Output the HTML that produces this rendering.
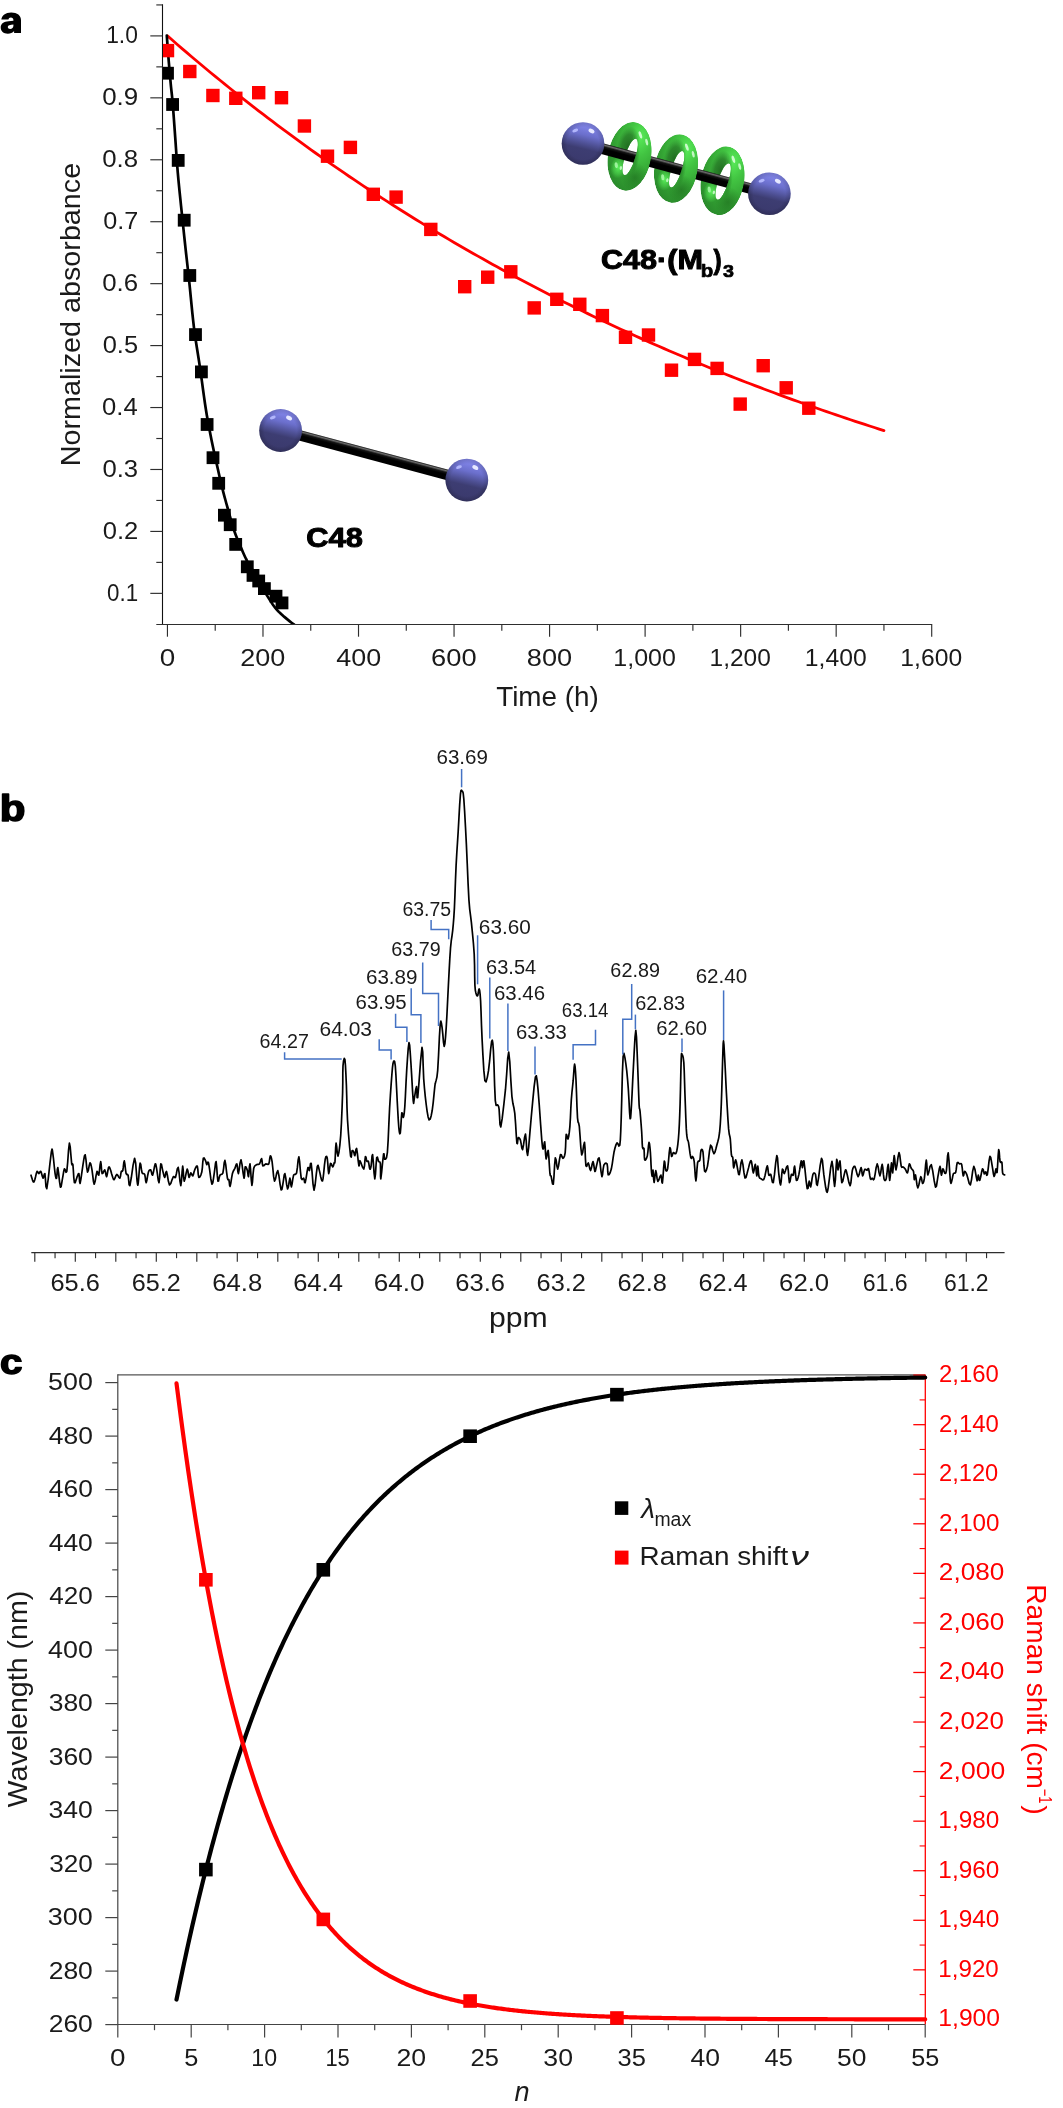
<!DOCTYPE html>
<html><head><meta charset="utf-8"><style>
html,body{margin:0;padding:0;background:#fff;}
svg{display:block;font-family:"Liberation Sans",sans-serif;will-change:transform;}
</style></head><body>
<svg width="1063" height="2108" viewBox="0 0 1063 2108">
<rect width="1063" height="2108" fill="#fff"/>
<path fill="#000" fill-rule="evenodd" d="M1.3,19.6 C1.9,15.3 5.5,12.4 11.2,12.4 C17.3,12.4 21.0,15.2 21.0,20.3 L21.0,33.0 L14.1,33.0 L14.1,31.1 C12.6,32.9 10.4,33.8 7.8,33.8 C3.5,33.8 0.7,31.3 0.7,27.6 C0.7,23.5 4.1,21.7 8.6,21.3 L13.4,20.8 L13.4,20.0 C13.4,18.5 12.4,17.6 10.9,17.6 C9.4,17.6 8.6,18.4 8.5,19.6 Z M13.4,24.5 C12.2,24.8 10.5,24.9 9.3,25.3 C8.3,25.6 7.8,26.3 7.8,27.1 C7.8,28.3 8.8,29.1 10.1,29.1 C12.2,29.1 13.4,27.7 13.4,25.8 Z"/>
<line x1="162.50" y1="4.30" x2="162.50" y2="625.00" stroke="#111" stroke-width="1.1" />
<line x1="156.30" y1="624.50" x2="932.20" y2="624.50" stroke="#2e2e2e" stroke-width="1.1" />
<line x1="150.30" y1="593.36" x2="162.50" y2="593.36" stroke="#2e2e2e" stroke-width="1.15" />
<text x="107.03" y="600.76" font-size="23" fill="#1a1a1a" textLength="31.06" lengthAdjust="spacingAndGlyphs" >0.1</text>
<line x1="150.30" y1="531.42" x2="162.50" y2="531.42" stroke="#2e2e2e" stroke-width="1.15" />
<text x="102.70" y="538.82" font-size="23" fill="#1a1a1a" textLength="35.59" lengthAdjust="spacingAndGlyphs" >0.2</text>
<line x1="150.30" y1="469.48" x2="162.50" y2="469.48" stroke="#2e2e2e" stroke-width="1.15" />
<text x="102.40" y="476.88" font-size="23" fill="#1a1a1a" textLength="35.73" lengthAdjust="spacingAndGlyphs" >0.3</text>
<line x1="150.30" y1="407.54" x2="162.50" y2="407.54" stroke="#2e2e2e" stroke-width="1.15" />
<text x="102.10" y="414.94" font-size="23" fill="#1a1a1a" textLength="35.65" lengthAdjust="spacingAndGlyphs" >0.4</text>
<line x1="150.30" y1="345.60" x2="162.50" y2="345.60" stroke="#2e2e2e" stroke-width="1.15" />
<text x="102.71" y="353.00" font-size="23" fill="#1a1a1a" textLength="35.36" lengthAdjust="spacingAndGlyphs" >0.5</text>
<line x1="150.30" y1="283.66" x2="162.50" y2="283.66" stroke="#2e2e2e" stroke-width="1.15" />
<text x="102.19" y="291.06" font-size="23" fill="#1a1a1a" textLength="35.95" lengthAdjust="spacingAndGlyphs" >0.6</text>
<line x1="150.30" y1="221.72" x2="162.50" y2="221.72" stroke="#2e2e2e" stroke-width="1.15" />
<text x="103.22" y="229.12" font-size="23" fill="#1a1a1a" textLength="35.05" lengthAdjust="spacingAndGlyphs" >0.7</text>
<line x1="150.30" y1="159.78" x2="162.50" y2="159.78" stroke="#2e2e2e" stroke-width="1.15" />
<text x="102.19" y="167.18" font-size="23" fill="#1a1a1a" textLength="35.93" lengthAdjust="spacingAndGlyphs" >0.8</text>
<line x1="150.30" y1="97.84" x2="162.50" y2="97.84" stroke="#2e2e2e" stroke-width="1.15" />
<text x="102.19" y="105.24" font-size="23" fill="#1a1a1a" textLength="36.04" lengthAdjust="spacingAndGlyphs" >0.9</text>
<line x1="150.30" y1="35.90" x2="162.50" y2="35.90" stroke="#2e2e2e" stroke-width="1.15" />
<text x="106.16" y="43.30" font-size="23" fill="#1a1a1a" textLength="31.73" lengthAdjust="spacingAndGlyphs" >1.0</text>
<line x1="156.30" y1="562.39" x2="162.50" y2="562.39" stroke="#2e2e2e" stroke-width="1.15" />
<line x1="156.30" y1="500.45" x2="162.50" y2="500.45" stroke="#2e2e2e" stroke-width="1.15" />
<line x1="156.30" y1="438.51" x2="162.50" y2="438.51" stroke="#2e2e2e" stroke-width="1.15" />
<line x1="156.30" y1="376.57" x2="162.50" y2="376.57" stroke="#2e2e2e" stroke-width="1.15" />
<line x1="156.30" y1="314.63" x2="162.50" y2="314.63" stroke="#2e2e2e" stroke-width="1.15" />
<line x1="156.30" y1="252.69" x2="162.50" y2="252.69" stroke="#2e2e2e" stroke-width="1.15" />
<line x1="156.30" y1="190.75" x2="162.50" y2="190.75" stroke="#2e2e2e" stroke-width="1.15" />
<line x1="156.30" y1="128.81" x2="162.50" y2="128.81" stroke="#2e2e2e" stroke-width="1.15" />
<line x1="156.30" y1="66.87" x2="162.50" y2="66.87" stroke="#2e2e2e" stroke-width="1.15" />
<line x1="156.30" y1="4.93" x2="162.50" y2="4.93" stroke="#2e2e2e" stroke-width="1.15" />
<line x1="167.45" y1="624.50" x2="167.45" y2="636.70" stroke="#2e2e2e" stroke-width="1.15" />
<text x="159.71" y="665.50" font-size="23" fill="#1a1a1a" textLength="15.47" lengthAdjust="spacingAndGlyphs" >0</text>
<line x1="262.98" y1="624.50" x2="262.98" y2="636.70" stroke="#2e2e2e" stroke-width="1.15" />
<text x="240.33" y="665.50" font-size="23" fill="#1a1a1a" textLength="45.01" lengthAdjust="spacingAndGlyphs" >200</text>
<line x1="358.51" y1="624.50" x2="358.51" y2="636.70" stroke="#2e2e2e" stroke-width="1.15" />
<text x="336.30" y="665.50" font-size="23" fill="#1a1a1a" textLength="44.87" lengthAdjust="spacingAndGlyphs" >400</text>
<line x1="454.05" y1="624.50" x2="454.05" y2="636.70" stroke="#2e2e2e" stroke-width="1.15" />
<text x="431.11" y="665.50" font-size="23" fill="#1a1a1a" textLength="45.55" lengthAdjust="spacingAndGlyphs" >600</text>
<line x1="549.58" y1="624.50" x2="549.58" y2="636.70" stroke="#2e2e2e" stroke-width="1.15" />
<text x="526.85" y="665.50" font-size="23" fill="#1a1a1a" textLength="45.34" lengthAdjust="spacingAndGlyphs" >800</text>
<line x1="645.11" y1="624.50" x2="645.11" y2="636.70" stroke="#2e2e2e" stroke-width="1.15" />
<text x="613.36" y="665.50" font-size="23" fill="#1a1a1a" textLength="62.58" lengthAdjust="spacingAndGlyphs" >1,000</text>
<line x1="740.64" y1="624.50" x2="740.64" y2="636.70" stroke="#2e2e2e" stroke-width="1.15" />
<text x="709.58" y="665.50" font-size="23" fill="#1a1a1a" textLength="61.22" lengthAdjust="spacingAndGlyphs" >1,200</text>
<line x1="836.17" y1="624.50" x2="836.17" y2="636.70" stroke="#2e2e2e" stroke-width="1.15" />
<text x="804.79" y="665.50" font-size="23" fill="#1a1a1a" textLength="61.85" lengthAdjust="spacingAndGlyphs" >1,400</text>
<line x1="931.71" y1="624.50" x2="931.71" y2="636.70" stroke="#2e2e2e" stroke-width="1.15" />
<text x="900.38" y="665.50" font-size="23" fill="#1a1a1a" textLength="61.74" lengthAdjust="spacingAndGlyphs" >1,600</text>
<line x1="215.22" y1="624.50" x2="215.22" y2="630.70" stroke="#2e2e2e" stroke-width="1.15" />
<line x1="310.75" y1="624.50" x2="310.75" y2="630.70" stroke="#2e2e2e" stroke-width="1.15" />
<line x1="406.28" y1="624.50" x2="406.28" y2="630.70" stroke="#2e2e2e" stroke-width="1.15" />
<line x1="501.81" y1="624.50" x2="501.81" y2="630.70" stroke="#2e2e2e" stroke-width="1.15" />
<line x1="597.34" y1="624.50" x2="597.34" y2="630.70" stroke="#2e2e2e" stroke-width="1.15" />
<line x1="692.88" y1="624.50" x2="692.88" y2="630.70" stroke="#2e2e2e" stroke-width="1.15" />
<line x1="788.41" y1="624.50" x2="788.41" y2="630.70" stroke="#2e2e2e" stroke-width="1.15" />
<line x1="883.94" y1="624.50" x2="883.94" y2="630.70" stroke="#2e2e2e" stroke-width="1.15" />
<text x="496.18" y="706.20" font-size="28" fill="#1a1a1a" textLength="102.73" lengthAdjust="spacingAndGlyphs" >Time (h)</text>
<g transform="translate(80.0,0) rotate(-90)">
<text x="-466.26" y="0.00" font-size="28" fill="#1a1a1a" textLength="303.43" lengthAdjust="spacingAndGlyphs" >Normalized absorbance</text>
</g>
<clipPath id="ca"><rect x="163" y="0" width="800" height="624"/></clipPath>
<path d="M167.45,35.90 L172.23,40.07 L177.00,44.22 L181.78,48.33 L186.56,52.42 L191.33,56.49 L196.11,60.52 L200.89,64.53 L205.66,68.51 L210.44,72.46 L215.22,76.39 L219.99,80.29 L224.77,84.16 L229.55,88.01 L234.32,91.83 L239.10,95.63 L243.88,99.40 L248.65,103.14 L253.43,106.86 L258.21,110.56 L262.98,114.23 L267.76,117.87 L272.54,121.49 L277.31,125.09 L282.09,128.66 L286.87,132.21 L291.64,135.74 L296.42,139.24 L301.19,142.71 L305.97,146.17 L310.75,149.60 L315.52,153.00 L320.30,156.39 L325.08,159.75 L329.85,163.09 L334.63,166.40 L339.41,169.70 L344.18,172.97 L348.96,176.22 L353.74,179.45 L358.51,182.65 L363.29,185.84 L368.07,189.00 L372.84,192.14 L377.62,195.26 L382.40,198.36 L387.17,201.44 L391.95,204.50 L396.73,207.53 L401.50,210.55 L406.28,213.55 L411.06,216.52 L415.83,219.48 L420.61,222.42 L425.39,225.33 L430.16,228.23 L434.94,231.11 L439.72,233.96 L444.49,236.80 L449.27,239.62 L454.05,242.42 L458.82,245.20 L463.60,247.97 L468.38,250.71 L473.15,253.44 L477.93,256.14 L482.71,258.83 L487.48,261.50 L492.26,264.16 L497.04,266.79 L501.81,269.41 L506.59,272.01 L511.37,274.59 L516.14,277.16 L520.92,279.71 L525.69,282.24 L530.47,284.75 L535.25,287.25 L540.02,289.73 L544.80,292.19 L549.58,294.63 L554.35,297.06 L559.13,299.48 L563.91,301.88 L568.68,304.26 L573.46,306.62 L578.24,308.97 L583.01,311.30 L587.79,313.62 L592.57,315.92 L597.34,318.21 L602.12,320.48 L606.90,322.74 L611.67,324.98 L616.45,327.20 L621.23,329.41 L626.00,331.61 L630.78,333.79 L635.56,335.96 L640.33,338.11 L645.11,340.24 L649.89,342.37 L654.66,344.47 L659.44,346.57 L664.22,348.65 L668.99,350.71 L673.77,352.77 L678.55,354.80 L683.32,356.83 L688.10,358.84 L692.88,360.84 L697.65,362.82 L702.43,364.79 L707.21,366.75 L711.98,368.69 L716.76,370.62 L721.54,372.54 L726.31,374.45 L731.09,376.34 L735.87,378.22 L740.64,380.09 L745.42,381.94 L750.20,383.78 L754.97,385.61 L759.75,387.43 L764.52,389.23 L769.30,391.02 L774.08,392.81 L778.85,394.57 L783.63,396.33 L788.41,398.07 L793.18,399.81 L797.96,401.53 L802.74,403.24 L807.51,404.94 L812.29,406.62 L817.07,408.30 L821.84,409.96 L826.62,411.62 L831.40,413.26 L836.17,414.89 L840.95,416.51 L845.73,418.12 L850.50,419.72 L855.28,421.30 L860.06,422.88 L864.83,424.44 L869.61,426.00 L874.39,427.54 L879.16,429.08 L883.94,430.60" fill="none" stroke="#f00" stroke-width="2.8" stroke-linejoin="round" stroke-linecap="round" />
<g clip-path="url(#ca)">
<path d="M166.80,35.60 L166.98,38.03 L167.22,41.36 L167.51,45.31 L167.83,49.62 L168.17,54.01 L168.50,58.20 L168.84,62.34 L169.20,66.67 L169.58,71.08 L169.96,75.44 L170.34,79.66 L170.70,83.60 L171.04,87.06 L171.36,90.10 L171.68,92.98 L172.00,95.98 L172.34,99.36 L172.70,103.40 L173.09,108.19 L173.49,113.53 L173.91,119.25 L174.34,125.20 L174.77,131.20 L175.20,137.10 L175.61,142.90 L176.01,148.75 L176.41,154.65 L176.83,160.63 L177.29,166.71 L177.80,172.90 L178.38,179.29 L179.01,185.87 L179.68,192.54 L180.36,199.22 L181.04,205.81 L181.70,212.20 L182.34,218.40 L182.97,224.48 L183.61,230.47 L184.24,236.39 L184.87,242.25 L185.50,248.10 L186.12,253.77 L186.73,259.21 L187.34,264.60 L187.97,270.13 L188.61,275.97 L189.30,282.30 L190.02,289.29 L190.75,296.84 L191.51,304.69 L192.30,312.63 L193.13,320.41 L194.00,327.80 L194.93,334.75 L195.91,341.44 L196.93,347.98 L197.96,354.47 L198.99,361.00 L200.00,367.70 L200.99,374.69 L201.99,381.93 L202.98,389.22 L203.97,396.38 L204.94,403.20 L205.90,409.50 L206.83,415.17 L207.73,420.35 L208.61,425.19 L209.51,429.87 L210.43,434.55 L211.40,439.40 L212.45,444.50 L213.56,449.73 L214.70,454.96 L215.83,460.06 L216.91,464.88 L217.90,469.30 L218.78,473.21 L219.57,476.70 L220.31,479.93 L221.03,483.02 L221.79,486.13 L222.60,489.40 L223.48,492.83 L224.40,496.29 L225.34,499.77 L226.29,503.24 L227.25,506.70 L228.20,510.10 L229.15,513.52 L230.10,516.98 L231.05,520.41 L232.00,523.76 L232.95,526.94 L233.90,529.90 L234.83,532.57 L235.74,534.99 L236.64,537.25 L237.56,539.44 L238.51,541.66 L239.50,544.00 L240.54,546.49 L241.63,549.07 L242.74,551.67 L243.86,554.24 L244.99,556.70 L246.10,559.00 L247.19,561.08 L248.27,562.97 L249.34,564.76 L250.43,566.53 L251.55,568.35 L252.70,570.30 L253.90,572.39 L255.13,574.56 L256.39,576.79 L257.67,579.04 L258.94,581.28 L260.20,583.50 L261.45,585.71 L262.70,587.94 L263.94,590.17 L265.19,592.37 L266.44,594.52 L267.70,596.60 L268.96,598.63 L270.23,600.64 L271.50,602.59 L272.77,604.47 L274.04,606.25 L275.30,607.90 L276.52,609.37 L277.70,610.68 L278.88,611.88 L280.10,613.04 L281.39,614.23 L282.80,615.50 L284.39,616.90 L286.15,618.38 L287.99,619.89 L289.81,621.35 L291.55,622.71 L293.10,623.90 L294.53,624.94 L295.91,625.89 L297.19,626.72 L298.34,627.45 L299.29,628.04 L300.00,628.50" fill="none" stroke="#000" stroke-width="2.7" stroke-linejoin="round" stroke-linecap="round" />
</g>
<g clip-path="url(#ca)">
<rect x="160.80" y="43.90" width="13.40" height="13.40" fill="#f00"/>
<rect x="183.10" y="64.80" width="13.40" height="13.40" fill="#f00"/>
<rect x="206.20" y="88.80" width="13.40" height="13.40" fill="#f00"/>
<rect x="229.10" y="91.60" width="13.40" height="13.40" fill="#f00"/>
<rect x="252.00" y="86.00" width="13.40" height="13.40" fill="#f00"/>
<rect x="274.80" y="91.00" width="13.40" height="13.40" fill="#f00"/>
<rect x="297.70" y="119.30" width="13.40" height="13.40" fill="#f00"/>
<rect x="320.80" y="149.50" width="13.40" height="13.40" fill="#f00"/>
<rect x="343.70" y="140.70" width="13.40" height="13.40" fill="#f00"/>
<rect x="366.60" y="187.60" width="13.40" height="13.40" fill="#f00"/>
<rect x="389.40" y="190.40" width="13.40" height="13.40" fill="#f00"/>
<rect x="424.10" y="222.70" width="13.40" height="13.40" fill="#f00"/>
<rect x="458.00" y="280.00" width="13.40" height="13.40" fill="#f00"/>
<rect x="481.00" y="270.50" width="13.40" height="13.40" fill="#f00"/>
<rect x="504.10" y="265.10" width="13.40" height="13.40" fill="#f00"/>
<rect x="527.50" y="301.20" width="13.40" height="13.40" fill="#f00"/>
<rect x="550.10" y="292.60" width="13.40" height="13.40" fill="#f00"/>
<rect x="573.10" y="297.60" width="13.40" height="13.40" fill="#f00"/>
<rect x="595.70" y="308.90" width="13.40" height="13.40" fill="#f00"/>
<rect x="618.80" y="330.60" width="13.40" height="13.40" fill="#f00"/>
<rect x="641.80" y="328.30" width="13.40" height="13.40" fill="#f00"/>
<rect x="664.80" y="363.50" width="13.40" height="13.40" fill="#f00"/>
<rect x="687.80" y="352.70" width="13.40" height="13.40" fill="#f00"/>
<rect x="710.40" y="361.70" width="13.40" height="13.40" fill="#f00"/>
<rect x="733.50" y="397.40" width="13.40" height="13.40" fill="#f00"/>
<rect x="756.50" y="359.00" width="13.40" height="13.40" fill="#f00"/>
<rect x="779.50" y="381.10" width="13.40" height="13.40" fill="#f00"/>
<rect x="802.10" y="401.50" width="13.40" height="13.40" fill="#f00"/>
<rect x="161.10" y="66.80" width="12.80" height="12.80" fill="#000"/>
<rect x="166.20" y="98.10" width="12.80" height="12.80" fill="#000"/>
<rect x="171.80" y="154.00" width="12.80" height="12.80" fill="#000"/>
<rect x="177.80" y="213.80" width="12.80" height="12.80" fill="#000"/>
<rect x="183.40" y="269.10" width="12.80" height="12.80" fill="#000"/>
<rect x="189.10" y="328.20" width="12.80" height="12.80" fill="#000"/>
<rect x="195.00" y="365.50" width="12.80" height="12.80" fill="#000"/>
<rect x="200.70" y="418.10" width="12.80" height="12.80" fill="#000"/>
<rect x="206.60" y="451.30" width="12.80" height="12.80" fill="#000"/>
<rect x="212.30" y="476.90" width="12.80" height="12.80" fill="#000"/>
<rect x="218.00" y="508.80" width="12.80" height="12.80" fill="#000"/>
<rect x="223.80" y="518.30" width="12.80" height="12.80" fill="#000"/>
<rect x="229.30" y="538.00" width="12.80" height="12.80" fill="#000"/>
<rect x="240.90" y="560.40" width="12.80" height="12.80" fill="#000"/>
<rect x="246.60" y="569.00" width="12.80" height="12.80" fill="#000"/>
<rect x="252.30" y="574.60" width="12.80" height="12.80" fill="#000"/>
<rect x="258.00" y="582.20" width="12.80" height="12.80" fill="#000"/>
<rect x="269.60" y="589.80" width="12.80" height="12.80" fill="#000"/>
<rect x="275.60" y="596.50" width="12.80" height="12.80" fill="#000"/>
</g>
<defs>
<linearGradient id="sph" x1="0.62" y1="0" x2="0.38" y2="1">
<stop offset="0" stop-color="#8a8ef5"/><stop offset="0.3" stop-color="#6b6fcc"/><stop offset="0.5" stop-color="#4d4f92"/><stop offset="0.62" stop-color="#3d3d72"/><stop offset="1" stop-color="#3a396c"/></linearGradient>
<radialGradient id="sphE" cx="0.5" cy="0.5" r="0.5"><stop offset="0.75" stop-color="#000" stop-opacity="0"/><stop offset="1" stop-color="#000" stop-opacity="0.18"/></radialGradient>
<linearGradient id="rodg" x1="0" y1="0" x2="0" y2="1"><stop offset="0" stop-color="#111"/><stop offset="0.14" stop-color="#6e6e6e"/><stop offset="0.3" stop-color="#141414"/><stop offset="0.5" stop-color="#000"/><stop offset="1" stop-color="#000"/></linearGradient>
<linearGradient id="grn" x1="0" y1="0" x2="1" y2="0.3"><stop offset="0" stop-color="#2e9a2e"/><stop offset="0.4" stop-color="#45c045"/><stop offset="0.7" stop-color="#36a836"/><stop offset="1" stop-color="#207a20"/></linearGradient>
</defs>
<g transform="translate(280.6,430.3) rotate(14.974)"><rect x="0" y="-5.25" width="192.74" height="10.5" fill="url(#rodg)"/></g>
<circle cx="280.6" cy="430.5" r="21.4" fill="url(#sph)"/>
<circle cx="280.6" cy="430.5" r="21.4" fill="url(#sphE)"/>
<ellipse cx="272.8" cy="417.5" rx="3" ry="1.6" fill="#b8bcff" transform="rotate(-20 272.8 417.5)" opacity="0.9"/>
<ellipse cx="289.1" cy="418.0" rx="3.2" ry="2" fill="#e6e8ff" transform="rotate(30 289.1 418.0)"/>
<circle cx="466.8" cy="480.1" r="21.4" fill="url(#sph)"/>
<circle cx="466.8" cy="480.1" r="21.4" fill="url(#sphE)"/>
<ellipse cx="459.0" cy="467.1" rx="3" ry="1.6" fill="#b8bcff" transform="rotate(-20 459.0 467.1)" opacity="0.9"/>
<ellipse cx="475.3" cy="467.6" rx="3.2" ry="2" fill="#e6e8ff" transform="rotate(30 475.3 467.6)"/>
<text x="306.34" y="547.00" font-size="27" fill="#000" font-weight="bold" textLength="56.51" lengthAdjust="spacingAndGlyphs"  stroke="#000" stroke-width="1.0" stroke-linejoin="round">C48</text>
<defs><radialGradient id="ringg" cx="0.68" cy="0.2" r="0.9"><stop offset="0" stop-color="#58ea58"/><stop offset="0.3" stop-color="#42c442"/><stop offset="0.65" stop-color="#33a233"/><stop offset="1" stop-color="#28862a"/></radialGradient><radialGradient id="rgdark"><stop offset="0" stop-color="#1f681f" stop-opacity="0.95"/><stop offset="0.6" stop-color="#247224" stop-opacity="0.7"/><stop offset="1" stop-color="#2a7a2a" stop-opacity="0"/></radialGradient><radialGradient id="rglight"><stop offset="0" stop-color="#5cf25c" stop-opacity="0.95"/><stop offset="0.6" stop-color="#52e052" stop-opacity="0.5"/><stop offset="1" stop-color="#4cd84c" stop-opacity="0"/></radialGradient><radialGradient id="rgshade"><stop offset="0" stop-color="#1c661c" stop-opacity="0.55"/><stop offset="1" stop-color="#1c661c" stop-opacity="0"/></radialGradient>
<clipPath id="rc0"><rect x="630.3" y="116.30000000000001" width="30" height="80"/></clipPath>
<clipPath id="rs0"><path clip-rule="evenodd" d="M607.9,156.3 A21.6,34.6 0 1 0 651.1,156.3 A21.6,34.6 0 1 0 607.9,156.3 Z  M625.3,156.8 A5,16.8 8 1 0 635.3,156.8 A5,16.8 8 1 0 625.3,156.8 Z"/></clipPath>
<clipPath id="rc1"><rect x="676.8" y="128.5" width="30" height="80"/></clipPath>
<clipPath id="rs1"><path clip-rule="evenodd" d="M654.4,168.5 A21.6,34.6 0 1 0 697.6,168.5 A21.6,34.6 0 1 0 654.4,168.5 Z  M671.8,169.0 A5,16.8 8 1 0 681.8,169.0 A5,16.8 8 1 0 671.8,169.0 Z"/></clipPath>
<clipPath id="rc2"><rect x="723.3" y="140.7" width="30" height="80"/></clipPath>
<clipPath id="rs2"><path clip-rule="evenodd" d="M700.9,180.7 A21.6,34.6 0 1 0 744.1,180.7 A21.6,34.6 0 1 0 700.9,180.7 Z  M718.3,181.2 A5,16.8 8 1 0 728.3,181.2 A5,16.8 8 1 0 718.3,181.2 Z"/></clipPath>
</defs>
<g transform="rotate(10 629.5 156.3)"><g clip-path="url(#rs0)">
<path d="M607.9,156.3 A21.6,34.6 0 1 0 651.1,156.3 A21.6,34.6 0 1 0 607.9,156.3 Z " fill="url(#ringg)"/>
<ellipse cx="626.5" cy="147.3" rx="11" ry="21" fill="url(#rgdark)"/>
<ellipse cx="620.5" cy="169.3" rx="8" ry="11" fill="url(#rglight)"/>
<ellipse cx="638.5" cy="176.3" rx="13" ry="15" fill="url(#rgshade)"/>
<ellipse cx="635.5" cy="158.3" rx="4" ry="14" fill="url(#rgshade)"/>
<ellipse cx="636.5" cy="133.3" rx="1.4" ry="3.8" fill="#e0ffe0" opacity="0.85" transform="rotate(-28 636.5 133.3)"/>
<ellipse cx="644.0" cy="139.3" rx="1.3" ry="3.4" fill="#e0ffe0" opacity="0.8" transform="rotate(-22 644.0 139.3)"/>
<ellipse cx="618.0" cy="167.3" rx="1.6" ry="3.0" fill="#b8ffb8" opacity="0.75" transform="rotate(-15 618.0 167.3)"/>
<ellipse cx="623.0" cy="169.3" rx="1.2" ry="2.0" fill="#d8ffd8" opacity="0.8"/>
</g></g>
<g transform="rotate(10 676 168.5)"><g clip-path="url(#rs1)">
<path d="M654.4,168.5 A21.6,34.6 0 1 0 697.6,168.5 A21.6,34.6 0 1 0 654.4,168.5 Z " fill="url(#ringg)"/>
<ellipse cx="673" cy="159.5" rx="11" ry="21" fill="url(#rgdark)"/>
<ellipse cx="667" cy="181.5" rx="8" ry="11" fill="url(#rglight)"/>
<ellipse cx="685" cy="188.5" rx="13" ry="15" fill="url(#rgshade)"/>
<ellipse cx="682" cy="170.5" rx="4" ry="14" fill="url(#rgshade)"/>
<ellipse cx="683" cy="145.5" rx="1.4" ry="3.8" fill="#e0ffe0" opacity="0.85" transform="rotate(-28 683 145.5)"/>
<ellipse cx="690.5" cy="151.5" rx="1.3" ry="3.4" fill="#e0ffe0" opacity="0.8" transform="rotate(-22 690.5 151.5)"/>
<ellipse cx="664.5" cy="179.5" rx="1.6" ry="3.0" fill="#b8ffb8" opacity="0.75" transform="rotate(-15 664.5 179.5)"/>
<ellipse cx="669.5" cy="181.5" rx="1.2" ry="2.0" fill="#d8ffd8" opacity="0.8"/>
</g></g>
<g transform="rotate(10 722.5 180.7)"><g clip-path="url(#rs2)">
<path d="M700.9,180.7 A21.6,34.6 0 1 0 744.1,180.7 A21.6,34.6 0 1 0 700.9,180.7 Z " fill="url(#ringg)"/>
<ellipse cx="719.5" cy="171.7" rx="11" ry="21" fill="url(#rgdark)"/>
<ellipse cx="713.5" cy="193.7" rx="8" ry="11" fill="url(#rglight)"/>
<ellipse cx="731.5" cy="200.7" rx="13" ry="15" fill="url(#rgshade)"/>
<ellipse cx="728.5" cy="182.7" rx="4" ry="14" fill="url(#rgshade)"/>
<ellipse cx="729.5" cy="157.7" rx="1.4" ry="3.8" fill="#e0ffe0" opacity="0.85" transform="rotate(-28 729.5 157.7)"/>
<ellipse cx="737.0" cy="163.7" rx="1.3" ry="3.4" fill="#e0ffe0" opacity="0.8" transform="rotate(-22 737.0 163.7)"/>
<ellipse cx="711.0" cy="191.7" rx="1.6" ry="3.0" fill="#b8ffb8" opacity="0.75" transform="rotate(-15 711.0 191.7)"/>
<ellipse cx="716.0" cy="193.7" rx="1.2" ry="2.0" fill="#d8ffd8" opacity="0.8"/>
</g></g>
<g transform="translate(583,143.5) rotate(15.073)"><rect x="0" y="-5.4" width="193.04" height="10.8" fill="url(#rodg)"/></g>
<g transform="rotate(10 629.5 156.3)" clip-path="url(#rc0)"><g clip-path="url(#rs0)">
<path d="M607.9,156.3 A21.6,34.6 0 1 0 651.1,156.3 A21.6,34.6 0 1 0 607.9,156.3 Z " fill="url(#ringg)"/>
<ellipse cx="626.5" cy="147.3" rx="11" ry="21" fill="url(#rgdark)"/>
<ellipse cx="620.5" cy="169.3" rx="8" ry="11" fill="url(#rglight)"/>
<ellipse cx="638.5" cy="176.3" rx="13" ry="15" fill="url(#rgshade)"/>
<ellipse cx="635.5" cy="158.3" rx="4" ry="14" fill="url(#rgshade)"/>
<ellipse cx="636.5" cy="133.3" rx="1.4" ry="3.8" fill="#e0ffe0" opacity="0.85" transform="rotate(-28 636.5 133.3)"/>
<ellipse cx="644.0" cy="139.3" rx="1.3" ry="3.4" fill="#e0ffe0" opacity="0.8" transform="rotate(-22 644.0 139.3)"/>
<ellipse cx="618.0" cy="167.3" rx="1.6" ry="3.0" fill="#b8ffb8" opacity="0.75" transform="rotate(-15 618.0 167.3)"/>
<ellipse cx="623.0" cy="169.3" rx="1.2" ry="2.0" fill="#d8ffd8" opacity="0.8"/>
</g></g>
<g transform="rotate(10 676 168.5)" clip-path="url(#rc1)"><g clip-path="url(#rs1)">
<path d="M654.4,168.5 A21.6,34.6 0 1 0 697.6,168.5 A21.6,34.6 0 1 0 654.4,168.5 Z " fill="url(#ringg)"/>
<ellipse cx="673" cy="159.5" rx="11" ry="21" fill="url(#rgdark)"/>
<ellipse cx="667" cy="181.5" rx="8" ry="11" fill="url(#rglight)"/>
<ellipse cx="685" cy="188.5" rx="13" ry="15" fill="url(#rgshade)"/>
<ellipse cx="682" cy="170.5" rx="4" ry="14" fill="url(#rgshade)"/>
<ellipse cx="683" cy="145.5" rx="1.4" ry="3.8" fill="#e0ffe0" opacity="0.85" transform="rotate(-28 683 145.5)"/>
<ellipse cx="690.5" cy="151.5" rx="1.3" ry="3.4" fill="#e0ffe0" opacity="0.8" transform="rotate(-22 690.5 151.5)"/>
<ellipse cx="664.5" cy="179.5" rx="1.6" ry="3.0" fill="#b8ffb8" opacity="0.75" transform="rotate(-15 664.5 179.5)"/>
<ellipse cx="669.5" cy="181.5" rx="1.2" ry="2.0" fill="#d8ffd8" opacity="0.8"/>
</g></g>
<g transform="rotate(10 722.5 180.7)" clip-path="url(#rc2)"><g clip-path="url(#rs2)">
<path d="M700.9,180.7 A21.6,34.6 0 1 0 744.1,180.7 A21.6,34.6 0 1 0 700.9,180.7 Z " fill="url(#ringg)"/>
<ellipse cx="719.5" cy="171.7" rx="11" ry="21" fill="url(#rgdark)"/>
<ellipse cx="713.5" cy="193.7" rx="8" ry="11" fill="url(#rglight)"/>
<ellipse cx="731.5" cy="200.7" rx="13" ry="15" fill="url(#rgshade)"/>
<ellipse cx="728.5" cy="182.7" rx="4" ry="14" fill="url(#rgshade)"/>
<ellipse cx="729.5" cy="157.7" rx="1.4" ry="3.8" fill="#e0ffe0" opacity="0.85" transform="rotate(-28 729.5 157.7)"/>
<ellipse cx="737.0" cy="163.7" rx="1.3" ry="3.4" fill="#e0ffe0" opacity="0.8" transform="rotate(-22 737.0 163.7)"/>
<ellipse cx="711.0" cy="191.7" rx="1.6" ry="3.0" fill="#b8ffb8" opacity="0.75" transform="rotate(-15 711.0 191.7)"/>
<ellipse cx="716.0" cy="193.7" rx="1.2" ry="2.0" fill="#d8ffd8" opacity="0.8"/>
</g></g>
<circle cx="583" cy="143.5" r="21.3" fill="url(#sph)"/>
<circle cx="583" cy="143.5" r="21.3" fill="url(#sphE)"/>
<ellipse cx="575.2" cy="130.5" rx="3" ry="1.6" fill="#b8bcff" transform="rotate(-20 575.2 130.5)" opacity="0.9"/>
<ellipse cx="591.5" cy="131.0" rx="3.2" ry="2" fill="#e6e8ff" transform="rotate(30 591.5 131.0)"/>
<circle cx="769.4" cy="193.7" r="21.3" fill="url(#sph)"/>
<circle cx="769.4" cy="193.7" r="21.3" fill="url(#sphE)"/>
<ellipse cx="761.6" cy="180.7" rx="3" ry="1.6" fill="#b8bcff" transform="rotate(-20 761.6 180.7)" opacity="0.9"/>
<ellipse cx="777.9" cy="181.2" rx="3.2" ry="2" fill="#e6e8ff" transform="rotate(30 777.9 181.2)"/>
<text x="600.94" y="269.40" font-size="27" fill="#000" font-weight="bold" textLength="102.00" lengthAdjust="spacingAndGlyphs"  stroke="#000" stroke-width="1.0" stroke-linejoin="round">C48·(M</text>
<text x="700.70" y="276.60" font-size="19" fill="#000" font-weight="bold" textLength="12.49" lengthAdjust="spacingAndGlyphs"  stroke="#000" stroke-width="0.7" stroke-linejoin="round">b</text>
<text x="713.58" y="269.40" font-size="27" fill="#000" font-weight="bold" textLength="8.14" lengthAdjust="spacingAndGlyphs"  stroke="#000" stroke-width="1.0" stroke-linejoin="round">)</text>
<text x="723.10" y="276.70" font-size="17" fill="#000" font-weight="bold" textLength="10.96" lengthAdjust="spacingAndGlyphs"  stroke="#000" stroke-width="0.7" stroke-linejoin="round">3</text>
<text x="-0.27" y="821.30" font-size="37.3" fill="#000" font-weight="bold" textLength="25.70" lengthAdjust="spacingAndGlyphs"  stroke="#000" stroke-width="1.6" stroke-linejoin="round">b</text>
<line x1="31.30" y1="1252.60" x2="1004.60" y2="1252.60" stroke="#2e2e2e" stroke-width="1.15" />
<line x1="34.80" y1="1252.60" x2="34.80" y2="1261.80" stroke="#2e2e2e" stroke-width="1.15" />
<line x1="55.05" y1="1252.60" x2="55.05" y2="1258.20" stroke="#2e2e2e" stroke-width="1.15" />
<line x1="75.30" y1="1252.60" x2="75.30" y2="1261.80" stroke="#2e2e2e" stroke-width="1.15" />
<line x1="95.55" y1="1252.60" x2="95.55" y2="1258.20" stroke="#2e2e2e" stroke-width="1.15" />
<line x1="115.80" y1="1252.60" x2="115.80" y2="1261.80" stroke="#2e2e2e" stroke-width="1.15" />
<line x1="136.05" y1="1252.60" x2="136.05" y2="1258.20" stroke="#2e2e2e" stroke-width="1.15" />
<line x1="156.30" y1="1252.60" x2="156.30" y2="1261.80" stroke="#2e2e2e" stroke-width="1.15" />
<line x1="176.55" y1="1252.60" x2="176.55" y2="1258.20" stroke="#2e2e2e" stroke-width="1.15" />
<line x1="196.80" y1="1252.60" x2="196.80" y2="1261.80" stroke="#2e2e2e" stroke-width="1.15" />
<line x1="217.05" y1="1252.60" x2="217.05" y2="1258.20" stroke="#2e2e2e" stroke-width="1.15" />
<line x1="237.30" y1="1252.60" x2="237.30" y2="1261.80" stroke="#2e2e2e" stroke-width="1.15" />
<line x1="257.55" y1="1252.60" x2="257.55" y2="1258.20" stroke="#2e2e2e" stroke-width="1.15" />
<line x1="277.80" y1="1252.60" x2="277.80" y2="1261.80" stroke="#2e2e2e" stroke-width="1.15" />
<line x1="298.05" y1="1252.60" x2="298.05" y2="1258.20" stroke="#2e2e2e" stroke-width="1.15" />
<line x1="318.30" y1="1252.60" x2="318.30" y2="1261.80" stroke="#2e2e2e" stroke-width="1.15" />
<line x1="338.55" y1="1252.60" x2="338.55" y2="1258.20" stroke="#2e2e2e" stroke-width="1.15" />
<line x1="358.80" y1="1252.60" x2="358.80" y2="1261.80" stroke="#2e2e2e" stroke-width="1.15" />
<line x1="379.05" y1="1252.60" x2="379.05" y2="1258.20" stroke="#2e2e2e" stroke-width="1.15" />
<line x1="399.30" y1="1252.60" x2="399.30" y2="1261.80" stroke="#2e2e2e" stroke-width="1.15" />
<line x1="419.55" y1="1252.60" x2="419.55" y2="1258.20" stroke="#2e2e2e" stroke-width="1.15" />
<line x1="439.80" y1="1252.60" x2="439.80" y2="1261.80" stroke="#2e2e2e" stroke-width="1.15" />
<line x1="460.05" y1="1252.60" x2="460.05" y2="1258.20" stroke="#2e2e2e" stroke-width="1.15" />
<line x1="480.30" y1="1252.60" x2="480.30" y2="1261.80" stroke="#2e2e2e" stroke-width="1.15" />
<line x1="500.55" y1="1252.60" x2="500.55" y2="1258.20" stroke="#2e2e2e" stroke-width="1.15" />
<line x1="520.80" y1="1252.60" x2="520.80" y2="1261.80" stroke="#2e2e2e" stroke-width="1.15" />
<line x1="541.05" y1="1252.60" x2="541.05" y2="1258.20" stroke="#2e2e2e" stroke-width="1.15" />
<line x1="561.30" y1="1252.60" x2="561.30" y2="1261.80" stroke="#2e2e2e" stroke-width="1.15" />
<line x1="581.55" y1="1252.60" x2="581.55" y2="1258.20" stroke="#2e2e2e" stroke-width="1.15" />
<line x1="601.80" y1="1252.60" x2="601.80" y2="1261.80" stroke="#2e2e2e" stroke-width="1.15" />
<line x1="622.05" y1="1252.60" x2="622.05" y2="1258.20" stroke="#2e2e2e" stroke-width="1.15" />
<line x1="642.30" y1="1252.60" x2="642.30" y2="1261.80" stroke="#2e2e2e" stroke-width="1.15" />
<line x1="662.55" y1="1252.60" x2="662.55" y2="1258.20" stroke="#2e2e2e" stroke-width="1.15" />
<line x1="682.80" y1="1252.60" x2="682.80" y2="1261.80" stroke="#2e2e2e" stroke-width="1.15" />
<line x1="703.05" y1="1252.60" x2="703.05" y2="1258.20" stroke="#2e2e2e" stroke-width="1.15" />
<line x1="723.30" y1="1252.60" x2="723.30" y2="1261.80" stroke="#2e2e2e" stroke-width="1.15" />
<line x1="743.55" y1="1252.60" x2="743.55" y2="1258.20" stroke="#2e2e2e" stroke-width="1.15" />
<line x1="763.80" y1="1252.60" x2="763.80" y2="1261.80" stroke="#2e2e2e" stroke-width="1.15" />
<line x1="784.05" y1="1252.60" x2="784.05" y2="1258.20" stroke="#2e2e2e" stroke-width="1.15" />
<line x1="804.30" y1="1252.60" x2="804.30" y2="1261.80" stroke="#2e2e2e" stroke-width="1.15" />
<line x1="824.55" y1="1252.60" x2="824.55" y2="1258.20" stroke="#2e2e2e" stroke-width="1.15" />
<line x1="844.80" y1="1252.60" x2="844.80" y2="1261.80" stroke="#2e2e2e" stroke-width="1.15" />
<line x1="865.05" y1="1252.60" x2="865.05" y2="1258.20" stroke="#2e2e2e" stroke-width="1.15" />
<line x1="885.30" y1="1252.60" x2="885.30" y2="1261.80" stroke="#2e2e2e" stroke-width="1.15" />
<line x1="905.55" y1="1252.60" x2="905.55" y2="1258.20" stroke="#2e2e2e" stroke-width="1.15" />
<line x1="925.80" y1="1252.60" x2="925.80" y2="1261.80" stroke="#2e2e2e" stroke-width="1.15" />
<line x1="946.05" y1="1252.60" x2="946.05" y2="1258.20" stroke="#2e2e2e" stroke-width="1.15" />
<line x1="966.30" y1="1252.60" x2="966.30" y2="1261.80" stroke="#2e2e2e" stroke-width="1.15" />
<line x1="986.55" y1="1252.60" x2="986.55" y2="1258.20" stroke="#2e2e2e" stroke-width="1.15" />
<text x="50.51" y="1290.60" font-size="23" fill="#1a1a1a" textLength="49.40" lengthAdjust="spacingAndGlyphs" >65.6</text>
<text x="131.77" y="1290.60" font-size="23" fill="#1a1a1a" textLength="49.05" lengthAdjust="spacingAndGlyphs" >65.2</text>
<text x="212.19" y="1290.60" font-size="23" fill="#1a1a1a" textLength="50.02" lengthAdjust="spacingAndGlyphs" >64.8</text>
<text x="293.15" y="1290.60" font-size="23" fill="#1a1a1a" textLength="49.75" lengthAdjust="spacingAndGlyphs" >64.4</text>
<text x="373.78" y="1290.60" font-size="23" fill="#1a1a1a" textLength="50.74" lengthAdjust="spacingAndGlyphs" >64.0</text>
<text x="455.35" y="1290.60" font-size="23" fill="#1a1a1a" textLength="49.72" lengthAdjust="spacingAndGlyphs" >63.6</text>
<text x="536.61" y="1290.60" font-size="23" fill="#1a1a1a" textLength="49.36" lengthAdjust="spacingAndGlyphs" >63.2</text>
<text x="617.51" y="1290.60" font-size="23" fill="#1a1a1a" textLength="49.39" lengthAdjust="spacingAndGlyphs" >62.8</text>
<text x="698.47" y="1290.60" font-size="23" fill="#1a1a1a" textLength="49.12" lengthAdjust="spacingAndGlyphs" >62.4</text>
<text x="779.09" y="1290.60" font-size="23" fill="#1a1a1a" textLength="50.11" lengthAdjust="spacingAndGlyphs" >62.0</text>
<text x="862.73" y="1290.60" font-size="23" fill="#1a1a1a" textLength="44.99" lengthAdjust="spacingAndGlyphs" >61.6</text>
<text x="943.99" y="1290.60" font-size="23" fill="#1a1a1a" textLength="44.62" lengthAdjust="spacingAndGlyphs" >61.2</text>
<text x="488.95" y="1326.50" font-size="27.2" fill="#1a1a1a" textLength="58.74" lengthAdjust="spacingAndGlyphs" >ppm</text>
<path d="M31.00,1175.20 L31.63,1177.27 L32.51,1180.08 L33.30,1181.90 L33.83,1182.05 L34.28,1181.21 L34.80,1179.70 L35.50,1177.00 L36.27,1173.61 L37.00,1171.40 L37.62,1171.52 L38.20,1172.80 L38.80,1173.60 L39.44,1172.86 L40.10,1171.63 L40.80,1171.40 L41.56,1173.42 L42.36,1176.44 L43.10,1178.20 L43.73,1176.78 L44.31,1174.10 L44.90,1173.60 L45.43,1179.08 L45.97,1186.75 L46.80,1188.70 L48.22,1179.00 L49.93,1163.57 L51.30,1152.30 L51.99,1149.15 L52.35,1150.15 L52.80,1153.30 L53.54,1159.22 L54.36,1167.28 L55.10,1173.60 L55.67,1176.86 L56.15,1178.37 L56.60,1178.20 L56.97,1174.67 L57.31,1169.46 L57.80,1167.60 L58.59,1172.90 L59.53,1181.56 L60.40,1187.20 L61.08,1186.83 L61.68,1183.46 L62.30,1179.70 L62.97,1175.82 L63.67,1171.56 L64.40,1168.80 L65.17,1169.81 L65.97,1172.31 L66.80,1171.40 L67.66,1162.47 L68.55,1150.12 L69.40,1143.20 L70.23,1147.22 L71.03,1156.67 L71.70,1163.90 L72.17,1164.97 L72.52,1163.82 L72.90,1164.60 L73.34,1170.21 L73.81,1177.76 L74.40,1182.70 L75.18,1182.61 L76.07,1179.92 L76.90,1177.40 L77.63,1175.52 L78.31,1173.80 L78.90,1173.60 L79.30,1176.92 L79.60,1181.75 L80.10,1183.40 L80.97,1178.92 L82.02,1171.26 L83.00,1164.60 L83.78,1159.66 L84.49,1155.73 L85.20,1154.80 L85.95,1159.54 L86.71,1167.30 L87.50,1172.10 L88.34,1170.36 L89.20,1165.67 L90.00,1162.80 L90.70,1163.69 L91.34,1166.39 L92.00,1169.90 L92.70,1175.14 L93.41,1181.17 L94.20,1184.20 L95.13,1181.33 L96.12,1175.44 L97.00,1171.40 L97.67,1172.08 L98.23,1174.61 L98.80,1175.20 L99.44,1171.01 L100.10,1164.88 L100.70,1161.60 L101.16,1164.29 L101.56,1169.81 L102.10,1173.60 L102.94,1173.14 L103.92,1170.94 L104.80,1169.90 L105.46,1171.98 L106.03,1175.22 L106.60,1176.70 L107.24,1174.48 L107.89,1170.49 L108.50,1167.60 L109.00,1166.89 L109.46,1167.27 L110.00,1168.40 L110.73,1170.54 L111.54,1173.43 L112.30,1175.90 L112.90,1177.78 L113.45,1179.24 L114.10,1179.70 L114.92,1178.27 L115.84,1175.83 L116.80,1174.40 L117.83,1175.39 L118.90,1177.38 L119.80,1178.20 L120.41,1176.50 L120.86,1173.61 L121.30,1171.40 L121.80,1171.02 L122.30,1171.30 L122.80,1170.60 L123.29,1167.20 L123.78,1162.80 L124.30,1160.90 L124.87,1163.89 L125.47,1169.36 L126.10,1173.60 L126.76,1174.63 L127.44,1174.42 L128.10,1175.20 L128.61,1179.44 L129.09,1184.68 L129.90,1185.70 L131.33,1177.51 L133.09,1165.11 L134.60,1158.30 L135.65,1162.97 L136.45,1173.24 L137.10,1181.20 L137.54,1184.30 L137.83,1185.10 L138.20,1183.40 L138.77,1177.19 L139.43,1168.47 L140.10,1163.10 L140.74,1164.44 L141.39,1169.13 L142.10,1172.90 L142.96,1173.76 L143.89,1173.70 L144.70,1174.40 L145.26,1177.36 L145.69,1181.08 L146.20,1182.70 L146.88,1180.26 L147.63,1175.71 L148.40,1172.10 L149.17,1170.47 L149.96,1169.77 L150.70,1169.90 L151.34,1171.73 L151.93,1174.39 L152.60,1175.20 L153.46,1172.05 L154.39,1167.06 L155.20,1163.90 L155.75,1164.10 L156.18,1166.13 L156.70,1169.10 L157.43,1174.21 L158.24,1180.26 L159.00,1182.70 L159.63,1177.89 L160.21,1169.48 L160.80,1163.90 L161.42,1164.24 L162.06,1167.41 L162.70,1170.60 L163.37,1173.33 L164.04,1176.08 L164.70,1177.40 L165.27,1175.63 L165.82,1172.43 L166.50,1171.40 L167.38,1175.26 L168.40,1181.29 L169.50,1184.90 L170.77,1183.44 L172.12,1179.58 L173.30,1176.70 L174.13,1176.67 L174.79,1177.64 L175.50,1177.40 L176.37,1173.78 L177.29,1168.96 L178.20,1167.30 L179.10,1172.73 L179.99,1181.33 L180.80,1185.70 L181.50,1180.70 L182.12,1171.47 L182.70,1166.10 L183.17,1169.57 L183.60,1176.90 L184.20,1181.20 L185.13,1178.43 L186.23,1172.63 L187.20,1169.10 L187.89,1170.83 L188.44,1174.83 L189.00,1177.40 L189.59,1176.57 L190.19,1174.32 L190.80,1172.90 L191.46,1173.68 L192.13,1175.29 L192.80,1175.90 L193.41,1174.49 L194.02,1172.07 L194.70,1169.90 L195.56,1167.91 L196.49,1166.17 L197.30,1166.10 L197.83,1169.36 L198.23,1174.30 L198.80,1177.40 L199.74,1177.18 L200.86,1175.11 L201.80,1172.10 L202.38,1167.52 L202.80,1162.00 L203.30,1158.30 L204.05,1157.91 L204.89,1159.34 L205.60,1160.90 L206.06,1162.24 L206.40,1163.71 L206.80,1164.60 L207.30,1163.65 L207.87,1162.12 L208.60,1163.10 L209.62,1169.66 L210.81,1178.73 L211.90,1184.20 L212.79,1182.83 L213.58,1177.87 L214.30,1172.90 L214.94,1167.99 L215.52,1163.08 L216.10,1161.60 L216.69,1166.79 L217.29,1175.42 L217.90,1181.20 L218.51,1180.96 L219.15,1177.87 L219.90,1175.20 L220.86,1174.54 L221.94,1174.29 L222.90,1172.90 L223.62,1168.37 L224.23,1162.70 L224.90,1160.40 L225.73,1164.69 L226.62,1172.35 L227.40,1178.20 L227.99,1179.71 L228.46,1179.42 L228.90,1179.70 L229.28,1182.27 L229.63,1185.42 L230.10,1186.40 L230.78,1183.30 L231.58,1178.03 L232.40,1173.60 L233.24,1171.28 L234.10,1169.80 L234.90,1168.40 L235.62,1166.32 L236.29,1164.32 L236.90,1163.90 L237.40,1166.95 L237.84,1171.58 L238.40,1173.60 L239.17,1169.55 L240.06,1162.89 L241.00,1159.80 L242.04,1164.65 L243.12,1173.07 L244.00,1178.20 L244.50,1176.08 L244.79,1170.66 L245.20,1166.90 L245.90,1166.93 L246.71,1168.63 L247.40,1170.60 L247.83,1173.16 L248.14,1175.98 L248.50,1176.70 L248.96,1172.56 L249.46,1166.33 L250.00,1163.90 L250.61,1169.95 L251.26,1179.81 L251.90,1185.40 L252.46,1182.10 L253.01,1174.51 L253.70,1168.40 L254.65,1166.04 L255.75,1165.15 L256.80,1164.60 L257.75,1164.31 L258.66,1164.36 L259.50,1163.90 L260.28,1162.01 L260.99,1159.61 L261.60,1158.60 L262.00,1160.41 L262.30,1163.61 L262.80,1165.80 L263.67,1165.77 L264.73,1164.73 L265.80,1163.90 L266.86,1164.06 L267.91,1164.42 L268.80,1163.90 L269.40,1161.32 L269.83,1157.85 L270.30,1155.90 L270.86,1156.27 L271.44,1158.16 L272.10,1161.60 L272.82,1168.22 L273.61,1176.39 L274.50,1181.20 L275.53,1178.80 L276.67,1173.04 L277.80,1170.60 L278.95,1175.80 L280.10,1184.32 L281.10,1189.90 L281.87,1189.53 L282.50,1186.22 L283.10,1182.70 L283.68,1178.90 L284.24,1174.89 L284.90,1173.60 L285.75,1177.89 L286.70,1184.90 L287.60,1189.00 L288.43,1186.62 L289.21,1181.33 L289.90,1178.20 L290.43,1180.41 L290.88,1184.79 L291.40,1186.90 L292.05,1184.16 L292.78,1179.16 L293.60,1175.20 L294.57,1174.25 L295.62,1174.34 L296.60,1172.90 L297.42,1167.17 L298.16,1159.90 L298.90,1156.80 L299.66,1161.95 L300.42,1171.26 L301.20,1178.20 L302.06,1179.62 L302.93,1178.66 L303.70,1178.20 L304.23,1180.09 L304.65,1182.49 L305.20,1182.70 L306.06,1178.45 L307.04,1172.02 L307.90,1167.60 L308.48,1167.64 L308.92,1169.69 L309.40,1170.60 L309.94,1167.70 L310.51,1163.66 L311.20,1163.40 L312.04,1171.69 L312.99,1183.76 L314.00,1190.20 L315.11,1185.00 L316.29,1174.19 L317.30,1166.40 L318.02,1165.31 L318.59,1167.26 L319.20,1169.90 L319.97,1173.09 L320.78,1176.99 L321.50,1179.70 L322.03,1180.91 L322.48,1180.95 L323.00,1178.90 L323.69,1173.09 L324.46,1165.19 L325.20,1159.30 L325.90,1156.82 L326.58,1156.35 L327.20,1157.80 L327.73,1162.75 L328.20,1169.62 L328.70,1173.60 L329.26,1171.62 L329.85,1166.75 L330.50,1163.40 L331.26,1163.85 L332.07,1165.82 L332.80,1166.90 L333.39,1165.86 L333.89,1163.94 L334.30,1162.40 L334.58,1162.44 L334.77,1162.88 L335.00,1161.40 L335.31,1155.46 L335.66,1147.60 L336.10,1143.20 L336.64,1146.43 L337.28,1153.12 L338.00,1156.10 L338.87,1152.56 L339.83,1145.30 L340.70,1135.60 L341.45,1122.50 L342.11,1106.96 L342.60,1093.10 L342.79,1082.10 L342.81,1072.79 L343.00,1065.80 L343.54,1060.91 L344.24,1058.35 L344.90,1059.40 L345.44,1065.39 L345.94,1075.00 L346.40,1085.50 L346.72,1096.22 L347.00,1107.84 L347.50,1119.70 L348.44,1133.21 L349.61,1146.97 L350.60,1156.10 L351.22,1157.20 L351.66,1153.66 L352.10,1150.80 L352.61,1150.49 L353.11,1150.86 L353.60,1151.60 L354.03,1153.14 L354.44,1155.05 L354.90,1155.70 L355.41,1153.22 L355.97,1149.49 L356.60,1148.50 L357.37,1153.35 L358.21,1160.94 L358.90,1166.00 L359.22,1165.42 L359.40,1162.30 L359.90,1160.70 L361.07,1163.23 L362.56,1167.27 L363.80,1169.00 L364.51,1165.73 L364.96,1160.15 L365.40,1156.50 L365.91,1157.03 L366.40,1159.49 L366.90,1161.40 L367.40,1161.48 L367.91,1161.02 L368.40,1161.40 L368.88,1163.76 L369.34,1166.97 L369.80,1169.00 L370.23,1169.10 L370.66,1168.01 L371.10,1166.00 L371.56,1161.50 L372.04,1156.07 L372.60,1154.60 L373.29,1161.74 L374.06,1172.86 L374.80,1178.90 L375.46,1174.25 L376.08,1164.53 L376.70,1157.60 L377.34,1157.06 L377.97,1159.31 L378.60,1161.40 L379.26,1161.80 L379.91,1162.03 L380.40,1163.70 L380.55,1169.30 L380.54,1176.33 L380.80,1178.90 L381.62,1172.42 L382.70,1161.48 L383.60,1153.90 L384.03,1153.87 L384.28,1157.21 L384.70,1159.20 L385.50,1159.18 L386.48,1157.80 L387.40,1152.30 L388.17,1140.01 L388.88,1123.61 L389.60,1108.30 L390.39,1095.39 L391.19,1083.58 L391.90,1074.20 L392.44,1067.92 L392.90,1064.07 L393.40,1062.00 L394.00,1060.93 L394.65,1061.64 L395.30,1065.80 L395.94,1075.44 L396.59,1088.53 L397.20,1100.70 L397.76,1110.96 L398.29,1120.29 L398.80,1127.30 L399.31,1131.70 L399.80,1133.79 L400.30,1133.00 L400.80,1127.30 L401.30,1118.73 L401.80,1112.90 L402.30,1113.14 L402.80,1116.11 L403.30,1117.40 L403.79,1115.94 L404.27,1112.80 L404.80,1106.80 L405.39,1096.26 L406.02,1082.84 L406.70,1070.40 L407.45,1058.75 L408.25,1048.07 L409.00,1042.70 L409.65,1045.20 L410.25,1053.01 L410.90,1062.80 L411.68,1075.60 L412.51,1090.38 L413.20,1100.70 L413.61,1103.30 L413.90,1101.44 L414.30,1098.50 L414.99,1094.40 L415.80,1089.22 L416.50,1086.60 L416.86,1090.87 L417.11,1097.70 L417.70,1097.70 L419.00,1082.42 L420.64,1060.30 L422.00,1047.30 L422.73,1051.98 L423.17,1065.77 L423.70,1078.90 L424.46,1088.26 L425.31,1096.94 L426.20,1104.50 L427.13,1111.31 L428.10,1116.98 L429.10,1119.90 L430.14,1119.14 L431.20,1115.63 L432.20,1110.50 L433.17,1102.88 L434.09,1093.65 L434.80,1086.60 L435.15,1084.00 L435.30,1083.58 L435.60,1082.30 L436.19,1080.13 L436.92,1077.11 L437.70,1070.30 L438.53,1055.62 L439.40,1037.16 L440.20,1024.20 L440.87,1021.13 L441.47,1023.57 L442.10,1027.70 L442.79,1034.19 L443.50,1042.37 L444.20,1046.40 L444.87,1043.83 L445.52,1037.10 L446.20,1027.70 L446.92,1015.03 L447.67,999.69 L448.40,985.00 L449.10,971.60 L449.80,958.85 L450.50,948.20 L451.24,940.99 L452.00,935.89 L452.70,930.30 L453.30,923.98 L453.85,917.18 L454.40,908.10 L454.95,895.07 L455.50,879.76 L456.10,865.40 L456.77,853.46 L457.48,842.47 L458.20,831.20 L458.94,817.92 L459.70,804.36 L460.40,794.50 L461.00,790.49 L461.55,790.18 L462.10,791.10 L462.63,791.42 L463.17,792.98 L463.80,798.80 L464.60,811.00 L465.51,827.47 L466.40,844.90 L467.24,863.67 L468.07,883.39 L468.90,899.60 L469.72,909.34 L470.54,915.56 L471.40,922.70 L472.39,932.53 L473.41,943.26 L474.20,954.00 L474.56,965.25 L474.69,976.50 L474.90,985.30 L475.34,990.35 L475.88,992.95 L476.40,994.60 L476.87,995.73 L477.34,995.91 L477.80,995.30 L478.27,993.01 L478.73,989.93 L479.20,988.90 L479.66,990.59 L480.13,994.33 L480.60,1001.00 L481.04,1011.74 L481.50,1025.41 L482.10,1039.40 L482.91,1054.85 L483.86,1070.63 L484.90,1080.70 L486.06,1081.88 L487.31,1077.36 L488.50,1070.70 L489.62,1060.96 L490.68,1049.09 L491.60,1041.50 L492.29,1040.25 L492.84,1043.27 L493.40,1050.80 L494.01,1066.09 L494.63,1085.88 L495.30,1100.60 L496.10,1105.37 L496.96,1105.08 L497.70,1104.80 L498.23,1105.73 L498.65,1106.66 L499.10,1109.10 L499.53,1116.09 L500.00,1124.58 L500.80,1126.90 L502.20,1118.42 L503.93,1103.77 L505.50,1089.20 L506.68,1073.81 L507.69,1058.50 L508.70,1052.20 L509.78,1061.89 L510.86,1080.60 L511.90,1096.30 L512.92,1103.53 L513.90,1107.75 L514.80,1113.40 L515.59,1123.74 L516.28,1135.50 L516.90,1143.30 L517.39,1143.72 L517.80,1140.19 L518.30,1137.60 L518.98,1137.66 L519.74,1138.67 L520.50,1140.40 L521.18,1143.94 L521.84,1148.21 L522.60,1149.70 L523.54,1144.94 L524.56,1137.41 L525.50,1134.00 L526.20,1140.57 L526.82,1151.27 L527.60,1155.40 L528.67,1147.32 L529.90,1132.67 L531.20,1117.70 L532.61,1102.43 L534.10,1086.84 L535.40,1077.10 L536.34,1075.78 L537.10,1080.32 L538.00,1089.20 L539.26,1104.95 L540.66,1125.04 L541.80,1140.40 L542.47,1147.01 L542.89,1148.88 L543.30,1149.00 L543.77,1146.87 L544.24,1142.99 L544.70,1141.80 L545.14,1146.65 L545.58,1154.20 L546.10,1158.90 L546.76,1156.80 L547.50,1151.86 L548.20,1150.40 L548.81,1156.41 L549.39,1165.91 L549.90,1173.20 L550.30,1175.48 L550.64,1175.56 L551.10,1176.20 L551.77,1179.77 L552.54,1183.90 L553.30,1184.20 L553.97,1176.55 L554.61,1165.08 L555.30,1157.80 L556.06,1159.73 L556.86,1165.86 L557.70,1169.10 L558.62,1165.47 L559.58,1158.96 L560.50,1154.50 L561.33,1154.76 L562.12,1157.06 L562.90,1158.30 L563.72,1157.57 L564.53,1155.79 L565.20,1152.60 L565.60,1146.58 L565.86,1139.16 L566.20,1134.30 L566.74,1134.81 L567.36,1137.87 L568.00,1139.00 L568.64,1136.56 L569.30,1132.19 L569.90,1126.30 L570.39,1118.30 L570.81,1108.79 L571.30,1100.00 L571.91,1092.78 L572.59,1086.28 L573.20,1080.20 L573.70,1073.40 L574.15,1067.02 L574.60,1064.20 L575.06,1066.36 L575.53,1072.08 L576.00,1080.20 L576.48,1092.21 L576.97,1106.62 L577.50,1117.80 L578.06,1122.04 L578.64,1123.05 L579.30,1126.30 L580.04,1135.90 L580.85,1147.75 L581.70,1155.00 L582.66,1152.49 L583.66,1145.39 L584.50,1142.30 L585.03,1148.43 L585.41,1158.57 L585.90,1165.80 L586.63,1166.43 L587.47,1164.14 L588.30,1163.00 L589.07,1165.34 L589.83,1168.83 L590.60,1170.50 L591.41,1168.05 L592.23,1163.78 L593.00,1161.60 L593.69,1164.05 L594.32,1168.59 L594.90,1171.50 L595.35,1171.17 L595.75,1169.23 L596.30,1166.80 L597.13,1163.09 L598.11,1158.90 L599.10,1157.80 L600.07,1163.12 L601.03,1171.53 L601.90,1176.60 L602.55,1174.70 L603.10,1169.45 L603.80,1165.30 L604.88,1163.64 L606.11,1163.09 L607.10,1163.90 L607.56,1167.24 L607.77,1171.94 L608.20,1174.80 L609.10,1174.56 L610.21,1172.48 L611.30,1169.10 L612.25,1163.85 L613.17,1157.30 L614.10,1151.70 L615.06,1147.69 L616.04,1144.62 L617.00,1142.80 L617.99,1143.80 L618.97,1146.04 L619.80,1145.10 L620.35,1139.78 L620.75,1131.28 L621.20,1118.80 L621.76,1098.17 L622.38,1073.57 L623.10,1056.70 L623.98,1053.41 L624.96,1057.86 L625.90,1064.20 L626.75,1070.90 L627.56,1079.49 L628.30,1088.70 L628.96,1099.96 L629.55,1111.83 L630.10,1118.80 L630.58,1118.25 L631.01,1112.79 L631.50,1104.70 L632.08,1093.84 L632.71,1080.37 L633.40,1067.00 L634.18,1051.97 L635.02,1037.06 L635.80,1030.30 L636.49,1037.06 L637.12,1051.97 L637.70,1067.00 L638.22,1080.66 L638.69,1094.44 L639.10,1104.70 L639.41,1108.51 L639.66,1108.80 L640.00,1110.80 L640.54,1117.03 L641.17,1124.95 L641.70,1132.20 L642.01,1138.28 L642.21,1143.68 L642.50,1147.50 L642.98,1148.54 L643.53,1148.00 L644.00,1148.60 L644.22,1152.17 L644.36,1156.88 L644.70,1159.90 L645.46,1160.09 L646.43,1158.58 L647.30,1156.00 L647.94,1151.30 L648.49,1145.53 L649.00,1142.40 L649.51,1143.79 L649.98,1147.82 L650.40,1152.60 L650.74,1158.11 L651.02,1164.37 L651.30,1169.50 L651.60,1173.00 L651.91,1175.37 L652.20,1176.30 L652.46,1174.51 L652.71,1171.27 L653.00,1170.10 L653.32,1173.76 L653.68,1179.48 L654.10,1182.50 L654.61,1179.49 L655.19,1173.79 L655.80,1170.60 L656.40,1173.15 L657.04,1178.23 L657.80,1181.40 L658.81,1180.04 L659.94,1176.78 L660.90,1175.10 L661.50,1177.79 L661.93,1182.06 L662.40,1183.00 L663.02,1176.73 L663.69,1167.14 L664.30,1161.00 L664.78,1162.13 L665.21,1166.71 L665.70,1170.10 L666.31,1171.04 L667.00,1170.79 L667.70,1168.40 L668.44,1161.75 L669.20,1152.96 L669.90,1147.50 L670.50,1148.76 L671.05,1153.35 L671.60,1156.50 L672.14,1155.97 L672.69,1154.01 L673.30,1152.60 L674.04,1152.84 L674.86,1153.64 L675.60,1153.70 L676.21,1152.71 L676.76,1150.98 L677.30,1148.10 L677.86,1144.02 L678.40,1138.79 L678.90,1132.20 L679.33,1124.34 L679.72,1115.11 L680.10,1104.00 L680.49,1088.71 L680.86,1071.55 L681.20,1058.90 L681.45,1053.93 L681.67,1053.48 L682.00,1054.40 L682.55,1055.28 L683.21,1057.54 L683.80,1062.30 L684.21,1070.55 L684.54,1081.30 L684.90,1092.70 L685.36,1105.30 L685.84,1118.55 L686.30,1128.90 L686.69,1134.45 L687.04,1137.10 L687.40,1139.00 L687.72,1140.19 L688.04,1140.63 L688.50,1142.40 L689.20,1147.23 L690.03,1153.38 L690.80,1157.70 L691.41,1158.29 L691.96,1157.04 L692.50,1156.50 L693.07,1157.21 L693.63,1158.62 L694.20,1161.60 L694.77,1168.34 L695.33,1176.64 L695.90,1180.80 L696.45,1176.94 L697.00,1168.94 L697.60,1162.70 L698.33,1161.09 L699.12,1161.24 L699.80,1160.50 L700.24,1157.25 L700.58,1153.11 L701.00,1150.30 L701.62,1149.34 L702.33,1149.70 L703.00,1152.00 L703.51,1158.00 L703.99,1165.95 L704.60,1171.20 L705.46,1171.89 L706.47,1169.87 L707.50,1166.10 L708.51,1159.21 L709.54,1150.57 L710.60,1145.20 L711.70,1146.49 L712.82,1151.04 L713.90,1153.70 L714.90,1152.29 L715.86,1149.00 L716.80,1145.20 L717.78,1141.76 L718.75,1137.83 L719.60,1132.20 L720.26,1124.47 L720.80,1115.05 L721.30,1104.00 L721.78,1089.95 L722.21,1074.27 L722.60,1061.10 L722.91,1051.11 L723.18,1043.63 L723.50,1040.80 L723.93,1044.54 L724.41,1052.93 L724.90,1062.30 L725.37,1071.56 L725.84,1081.81 L726.40,1092.70 L727.10,1105.30 L727.88,1118.55 L728.60,1128.90 L729.23,1133.99 L729.80,1136.18 L730.30,1139.00 L730.70,1144.32 L731.03,1150.28 L731.40,1154.80 L731.86,1156.46 L732.36,1156.68 L732.80,1157.70 L733.10,1161.20 L733.34,1165.50 L733.70,1167.80 L734.29,1165.85 L734.99,1161.90 L735.70,1159.90 L736.38,1161.97 L737.06,1165.99 L737.70,1169.50 L738.23,1172.27 L738.71,1174.53 L739.30,1174.60 L740.07,1169.95 L740.96,1163.10 L741.90,1159.90 L742.91,1164.45 L743.97,1172.64 L745.00,1178.00 L745.98,1177.45 L746.92,1174.07 L747.80,1170.60 L748.60,1167.65 L749.34,1164.61 L750.00,1162.40 L750.54,1161.14 L751.00,1160.70 L751.50,1161.60 L752.07,1165.21 L752.67,1170.16 L753.30,1172.90 L753.97,1170.76 L754.66,1166.41 L755.30,1164.30 L755.86,1167.46 L756.36,1172.87 L756.80,1175.90 L757.16,1173.46 L757.47,1168.65 L757.80,1166.10 L758.14,1168.43 L758.51,1173.03 L759.00,1176.70 L759.69,1178.11 L760.50,1178.58 L761.30,1178.90 L762.06,1179.47 L762.81,1179.88 L763.50,1179.70 L764.06,1178.77 L764.54,1177.26 L765.10,1175.20 L765.81,1171.73 L766.60,1167.72 L767.30,1165.80 L767.83,1167.92 L768.29,1172.13 L768.80,1175.20 L769.41,1175.35 L770.08,1174.37 L770.80,1174.40 L771.56,1177.80 L772.37,1182.22 L773.30,1182.70 L774.46,1174.67 L775.72,1162.71 L776.80,1155.60 L777.52,1158.01 L778.05,1165.26 L778.60,1172.10 L779.26,1177.70 L779.94,1182.89 L780.60,1184.90 L781.21,1181.00 L781.80,1173.92 L782.40,1169.10 L782.97,1169.55 L783.56,1172.26 L784.30,1173.60 L785.35,1171.00 L786.56,1167.03 L787.60,1165.80 L788.30,1170.54 L788.84,1178.02 L789.40,1182.70 L790.06,1181.46 L790.73,1177.43 L791.40,1174.40 L792.06,1174.36 L792.71,1175.33 L793.30,1175.20 L793.76,1172.03 L794.15,1167.77 L794.60,1166.10 L795.14,1169.89 L795.73,1176.27 L796.40,1180.40 L797.19,1180.18 L798.06,1177.71 L798.90,1174.40 L799.72,1169.71 L800.52,1164.18 L801.20,1160.90 L801.67,1162.13 L802.02,1165.61 L802.40,1167.60 L802.81,1165.08 L803.26,1161.07 L803.90,1160.90 L804.91,1168.92 L806.13,1180.77 L807.20,1188.70 L807.98,1188.33 L808.62,1184.03 L809.20,1181.20 L809.71,1182.80 L810.17,1185.86 L810.70,1186.90 L811.37,1183.62 L812.11,1178.31 L812.90,1174.40 L813.77,1173.07 L814.68,1173.12 L815.50,1174.40 L816.07,1178.66 L816.55,1184.15 L817.30,1185.40 L818.59,1177.59 L820.15,1165.54 L821.50,1158.30 L822.39,1160.43 L823.07,1167.37 L823.80,1174.40 L824.70,1180.79 L825.65,1187.27 L826.50,1191.40 L827.10,1192.37 L827.59,1190.99 L828.30,1187.20 L829.43,1178.29 L830.78,1166.96 L832.00,1161.30 L832.97,1167.82 L833.81,1180.01 L834.60,1186.40 L835.37,1179.84 L836.08,1167.47 L836.70,1159.30 L837.17,1160.77 L837.54,1166.42 L838.00,1169.90 L838.62,1167.21 L839.32,1162.34 L840.00,1160.90 L840.57,1167.09 L841.12,1176.69 L841.80,1182.70 L842.77,1181.22 L843.87,1176.14 L844.80,1172.10 L845.33,1170.41 L845.69,1169.77 L846.30,1170.90 L847.46,1175.76 L848.87,1182.39 L850.10,1185.70 L850.94,1182.48 L851.60,1175.93 L852.30,1170.60 L853.11,1167.86 L853.97,1166.32 L854.90,1166.40 L855.93,1169.48 L857.03,1174.17 L858.10,1176.70 L859.17,1174.46 L860.22,1170.06 L861.10,1167.60 L861.69,1169.63 L862.11,1173.59 L862.60,1175.90 L863.24,1174.56 L863.96,1171.57 L864.70,1169.40 L865.51,1169.24 L866.36,1169.90 L867.10,1170.30 L867.66,1169.55 L868.11,1168.53 L868.60,1168.80 L869.18,1171.71 L869.79,1175.90 L870.40,1178.90 L870.99,1179.41 L871.59,1178.73 L872.20,1178.20 L872.81,1178.91 L873.45,1179.78 L874.20,1178.90 L875.14,1174.06 L876.19,1167.48 L877.20,1163.90 L878.14,1166.77 L879.04,1172.65 L879.90,1175.90 L880.71,1172.81 L881.49,1167.10 L882.20,1164.30 L882.82,1167.77 L883.39,1174.14 L884.00,1178.90 L884.71,1180.52 L885.47,1180.52 L886.20,1178.90 L886.90,1173.98 L887.58,1167.43 L888.20,1164.30 L888.73,1168.64 L889.20,1176.39 L889.70,1180.40 L890.30,1176.00 L890.93,1167.86 L891.50,1162.80 L891.93,1165.13 L892.30,1170.54 L892.70,1172.90 L893.17,1167.99 L893.67,1160.04 L894.20,1155.60 L894.73,1159.20 L895.30,1166.30 L896.00,1169.90 L896.94,1165.33 L898.01,1157.26 L899.00,1152.60 L899.81,1155.29 L900.53,1161.40 L901.20,1166.10 L901.81,1167.26 L902.38,1167.00 L903.00,1166.90 L903.73,1167.47 L904.52,1168.20 L905.30,1169.10 L906.06,1170.72 L906.80,1172.52 L907.50,1172.90 L908.12,1170.35 L908.70,1166.37 L909.30,1163.90 L909.94,1164.46 L910.61,1166.51 L911.30,1168.40 L912.07,1169.31 L912.86,1170.06 L913.50,1171.40 L913.86,1174.26 L914.06,1177.71 L914.30,1179.70 L914.63,1178.41 L915.00,1175.67 L915.50,1174.90 L916.16,1178.81 L916.94,1184.70 L917.80,1187.90 L918.79,1185.30 L919.86,1180.00 L920.80,1176.70 L921.49,1178.05 L922.04,1181.39 L922.60,1183.40 L923.20,1183.03 L923.79,1181.33 L924.40,1178.20 L925.04,1171.90 L925.69,1164.17 L926.30,1160.10 L926.76,1163.53 L927.17,1170.61 L927.80,1174.90 L928.79,1172.11 L930.01,1166.53 L931.30,1164.60 L932.71,1170.92 L934.21,1180.90 L935.50,1187.20 L936.44,1186.14 L937.19,1181.41 L937.90,1176.70 L938.65,1172.54 L939.36,1168.41 L940.00,1166.40 L940.51,1168.48 L940.95,1172.69 L941.40,1175.20 L941.87,1173.79 L942.36,1170.69 L942.90,1168.80 L943.55,1169.76 L944.25,1171.93 L944.90,1173.30 L945.43,1173.49 L945.90,1172.88 L946.40,1170.60 L946.96,1164.11 L947.56,1155.95 L948.20,1152.90 L948.93,1160.00 L949.70,1172.22 L950.40,1181.20 L950.95,1183.31 L951.43,1182.19 L951.90,1180.40 L952.37,1178.37 L952.84,1175.67 L953.40,1173.60 L954.14,1173.10 L954.96,1173.21 L955.70,1172.40 L956.23,1169.43 L956.67,1165.52 L957.20,1162.80 L957.91,1162.39 L958.71,1163.17 L959.50,1163.90 L960.27,1163.77 L961.02,1163.60 L961.70,1164.60 L962.25,1168.17 L962.73,1172.91 L963.20,1175.90 L963.67,1175.26 L964.14,1172.87 L964.70,1171.40 L965.37,1171.83 L966.12,1173.19 L967.00,1175.20 L968.05,1179.04 L969.23,1183.54 L970.40,1184.90 L971.54,1179.60 L972.67,1171.17 L973.80,1166.40 L974.99,1169.54 L976.16,1176.34 L977.10,1180.90 L977.64,1180.09 L977.96,1177.04 L978.30,1175.20 L978.73,1176.75 L979.20,1179.51 L979.80,1180.40 L980.64,1177.16 L981.62,1172.05 L982.50,1168.80 L983.18,1169.53 L983.76,1172.11 L984.30,1173.90 L984.82,1173.54 L985.31,1172.38 L985.80,1171.80 L986.26,1173.25 L986.72,1175.28 L987.30,1174.90 L988.10,1169.28 L989.02,1161.25 L989.90,1156.30 L990.67,1157.21 L991.40,1161.20 L992.10,1165.40 L992.79,1169.61 L993.45,1174.04 L994.10,1176.40 L994.77,1174.83 L995.43,1171.19 L996.00,1168.80 L996.41,1170.15 L996.73,1172.74 L997.10,1172.40 L997.60,1165.47 L998.16,1155.60 L998.70,1149.60 L999.17,1151.44 L999.61,1157.14 L1000.10,1161.60 L1000.71,1162.34 L1001.37,1161.83 L1001.90,1162.40 L1002.17,1165.50 L1002.31,1169.67 L1002.60,1172.90 L1003.24,1174.27 L1004.03,1174.70 L1004.60,1174.90" fill="none" stroke="#000" stroke-width="1.7" stroke-linejoin="round" stroke-linecap="round" />
<path d="M461.6,769 V787.3" fill="none" stroke="#4472c4" stroke-width="1.5"/>
<path d="M284.6,1052.3 V1059.1 H341.7" fill="none" stroke="#4472c4" stroke-width="1.5"/>
<path d="M379.2,1039.3 V1049.9 H391.1 V1059.4" fill="none" stroke="#4472c4" stroke-width="1.5"/>
<path d="M395.6,1013.7 V1027.2 H406.9 V1041.9" fill="none" stroke="#4472c4" stroke-width="1.5"/>
<path d="M411.2,988.2 V1014.8 H420.9 V1043" fill="none" stroke="#4472c4" stroke-width="1.5"/>
<path d="M422.7,962.4 V993.4 H438.5 V1026.1" fill="none" stroke="#4472c4" stroke-width="1.5"/>
<path d="M431.1,920 V929.5 H448.7 V939.2" fill="none" stroke="#4472c4" stroke-width="1.5"/>
<path d="M477.6,935.3 V984.3" fill="none" stroke="#4472c4" stroke-width="1.5"/>
<path d="M489.8,977.6 V1038.5" fill="none" stroke="#4472c4" stroke-width="1.5"/>
<path d="M507.9,1003.5 V1050.9" fill="none" stroke="#4472c4" stroke-width="1.5"/>
<path d="M535,1046.4 V1074.6" fill="none" stroke="#4472c4" stroke-width="1.5"/>
<path d="M573.1,1059.7 V1044.8 H595.5 V1029.7" fill="none" stroke="#4472c4" stroke-width="1.5"/>
<path d="M622.8,1054.5 V1019.3 H631.7 V984.1" fill="none" stroke="#4472c4" stroke-width="1.5"/>
<path d="M635.4,1029.3 V1014.6" fill="none" stroke="#4472c4" stroke-width="1.5"/>
<path d="M682,1052 V1038.6" fill="none" stroke="#4472c4" stroke-width="1.5"/>
<path d="M723.6,1040 V990.4" fill="none" stroke="#4472c4" stroke-width="1.5"/>
<text x="436.46" y="763.70" font-size="19.6" fill="#1a1a1a" textLength="51.42" lengthAdjust="spacingAndGlyphs" >63.69</text>
<text x="402.51" y="916.30" font-size="19.6" fill="#1a1a1a" textLength="48.60" lengthAdjust="spacingAndGlyphs" >63.75</text>
<text x="478.85" y="933.90" font-size="19.6" fill="#1a1a1a" textLength="51.97" lengthAdjust="spacingAndGlyphs" >63.60</text>
<text x="391.30" y="955.80" font-size="19.6" fill="#1a1a1a" textLength="49.33" lengthAdjust="spacingAndGlyphs" >63.79</text>
<text x="365.95" y="984.00" font-size="19.6" fill="#1a1a1a" textLength="51.62" lengthAdjust="spacingAndGlyphs" >63.89</text>
<text x="486.08" y="974.30" font-size="19.6" fill="#1a1a1a" textLength="50.10" lengthAdjust="spacingAndGlyphs" >63.54</text>
<text x="355.56" y="1008.90" font-size="19.6" fill="#1a1a1a" textLength="51.09" lengthAdjust="spacingAndGlyphs" >63.95</text>
<text x="493.96" y="1000.30" font-size="19.6" fill="#1a1a1a" textLength="51.14" lengthAdjust="spacingAndGlyphs" >63.46</text>
<text x="319.53" y="1035.90" font-size="19.6" fill="#1a1a1a" textLength="52.49" lengthAdjust="spacingAndGlyphs" >64.03</text>
<text x="516.07" y="1039.30" font-size="19.6" fill="#1a1a1a" textLength="50.72" lengthAdjust="spacingAndGlyphs" >63.33</text>
<text x="259.60" y="1047.50" font-size="19.6" fill="#1a1a1a" textLength="49.29" lengthAdjust="spacingAndGlyphs" >64.27</text>
<text x="561.85" y="1017.00" font-size="19.6" fill="#1a1a1a" textLength="46.59" lengthAdjust="spacingAndGlyphs" >63.14</text>
<text x="610.39" y="977.00" font-size="19.6" fill="#1a1a1a" textLength="49.54" lengthAdjust="spacingAndGlyphs" >62.89</text>
<text x="635.19" y="1010.30" font-size="19.6" fill="#1a1a1a" textLength="49.89" lengthAdjust="spacingAndGlyphs" >62.83</text>
<text x="656.27" y="1034.60" font-size="19.6" fill="#1a1a1a" textLength="50.72" lengthAdjust="spacingAndGlyphs" >62.60</text>
<text x="695.66" y="983.20" font-size="19.6" fill="#1a1a1a" textLength="51.45" lengthAdjust="spacingAndGlyphs" >62.40</text>
<text x="0.07" y="1374.30" font-size="35" fill="#000" font-weight="bold" textLength="22.46" lengthAdjust="spacingAndGlyphs"  stroke="#000" stroke-width="1.5" stroke-linejoin="round">c</text>
<line x1="117.80" y1="1374.90" x2="925.30" y2="1374.90" stroke="#555" stroke-width="1.3" />
<line x1="117.80" y1="2024.50" x2="925.30" y2="2024.50" stroke="#444" stroke-width="1.2" />
<line x1="117.80" y1="1374.30" x2="117.80" y2="2025.10" stroke="#444" stroke-width="1.2" />
<line x1="925.30" y1="1374.70" x2="925.30" y2="2024.60" stroke="#f00" stroke-width="1.3" />
<line x1="105.30" y1="2024.60" x2="117.80" y2="2024.60" stroke="#444" stroke-width="1.2" />
<text x="48.67" y="2032.00" font-size="23" fill="#1a1a1a" textLength="44.17" lengthAdjust="spacingAndGlyphs" >260</text>
<line x1="105.30" y1="1971.10" x2="117.80" y2="1971.10" stroke="#444" stroke-width="1.2" />
<text x="48.67" y="1978.50" font-size="23" fill="#1a1a1a" textLength="44.17" lengthAdjust="spacingAndGlyphs" >280</text>
<line x1="105.30" y1="1917.60" x2="117.80" y2="1917.60" stroke="#444" stroke-width="1.2" />
<text x="47.87" y="1925.00" font-size="23" fill="#1a1a1a" textLength="44.98" lengthAdjust="spacingAndGlyphs" >300</text>
<line x1="105.30" y1="1864.10" x2="117.80" y2="1864.10" stroke="#444" stroke-width="1.2" />
<text x="49.20" y="1871.50" font-size="23" fill="#1a1a1a" textLength="43.62" lengthAdjust="spacingAndGlyphs" >320</text>
<line x1="105.30" y1="1810.60" x2="117.80" y2="1810.60" stroke="#444" stroke-width="1.2" />
<text x="48.59" y="1818.00" font-size="23" fill="#1a1a1a" textLength="44.25" lengthAdjust="spacingAndGlyphs" >340</text>
<line x1="105.30" y1="1757.10" x2="117.80" y2="1757.10" stroke="#444" stroke-width="1.2" />
<text x="48.69" y="1764.50" font-size="23" fill="#1a1a1a" textLength="44.14" lengthAdjust="spacingAndGlyphs" >360</text>
<line x1="105.30" y1="1703.60" x2="117.80" y2="1703.60" stroke="#444" stroke-width="1.2" />
<text x="48.69" y="1711.00" font-size="23" fill="#1a1a1a" textLength="44.14" lengthAdjust="spacingAndGlyphs" >380</text>
<line x1="105.30" y1="1650.10" x2="117.80" y2="1650.10" stroke="#444" stroke-width="1.2" />
<text x="47.98" y="1657.50" font-size="23" fill="#1a1a1a" textLength="44.87" lengthAdjust="spacingAndGlyphs" >400</text>
<line x1="105.30" y1="1596.60" x2="117.80" y2="1596.60" stroke="#444" stroke-width="1.2" />
<text x="49.30" y="1604.00" font-size="23" fill="#1a1a1a" textLength="43.52" lengthAdjust="spacingAndGlyphs" >420</text>
<line x1="105.30" y1="1543.10" x2="117.80" y2="1543.10" stroke="#444" stroke-width="1.2" />
<text x="48.69" y="1550.50" font-size="23" fill="#1a1a1a" textLength="44.14" lengthAdjust="spacingAndGlyphs" >440</text>
<line x1="105.30" y1="1489.60" x2="117.80" y2="1489.60" stroke="#444" stroke-width="1.2" />
<text x="48.79" y="1497.00" font-size="23" fill="#1a1a1a" textLength="44.04" lengthAdjust="spacingAndGlyphs" >460</text>
<line x1="105.30" y1="1436.10" x2="117.80" y2="1436.10" stroke="#444" stroke-width="1.2" />
<text x="48.79" y="1443.50" font-size="23" fill="#1a1a1a" textLength="44.04" lengthAdjust="spacingAndGlyphs" >480</text>
<line x1="105.30" y1="1382.60" x2="117.80" y2="1382.60" stroke="#444" stroke-width="1.2" />
<text x="48.13" y="1390.00" font-size="23" fill="#1a1a1a" textLength="44.72" lengthAdjust="spacingAndGlyphs" >500</text>
<line x1="112.20" y1="1997.85" x2="117.80" y2="1997.85" stroke="#444" stroke-width="1.2" />
<line x1="112.20" y1="1944.35" x2="117.80" y2="1944.35" stroke="#444" stroke-width="1.2" />
<line x1="112.20" y1="1890.85" x2="117.80" y2="1890.85" stroke="#444" stroke-width="1.2" />
<line x1="112.20" y1="1837.35" x2="117.80" y2="1837.35" stroke="#444" stroke-width="1.2" />
<line x1="112.20" y1="1783.85" x2="117.80" y2="1783.85" stroke="#444" stroke-width="1.2" />
<line x1="112.20" y1="1730.35" x2="117.80" y2="1730.35" stroke="#444" stroke-width="1.2" />
<line x1="112.20" y1="1676.85" x2="117.80" y2="1676.85" stroke="#444" stroke-width="1.2" />
<line x1="112.20" y1="1623.35" x2="117.80" y2="1623.35" stroke="#444" stroke-width="1.2" />
<line x1="112.20" y1="1569.85" x2="117.80" y2="1569.85" stroke="#444" stroke-width="1.2" />
<line x1="112.20" y1="1516.35" x2="117.80" y2="1516.35" stroke="#444" stroke-width="1.2" />
<line x1="112.20" y1="1462.85" x2="117.80" y2="1462.85" stroke="#444" stroke-width="1.2" />
<line x1="112.20" y1="1409.35" x2="117.80" y2="1409.35" stroke="#444" stroke-width="1.2" />
<line x1="117.80" y1="2024.50" x2="117.80" y2="2037.60" stroke="#444" stroke-width="1.2" />
<text x="110.06" y="2066.20" font-size="23" fill="#1a1a1a" textLength="15.47" lengthAdjust="spacingAndGlyphs" >0</text>
<line x1="191.20" y1="2024.50" x2="191.20" y2="2037.60" stroke="#444" stroke-width="1.2" />
<text x="184.19" y="2066.20" font-size="23" fill="#1a1a1a" textLength="14.08" lengthAdjust="spacingAndGlyphs" >5</text>
<line x1="264.60" y1="2024.50" x2="264.60" y2="2037.60" stroke="#444" stroke-width="1.2" />
<text x="251.29" y="2066.20" font-size="23" fill="#1a1a1a" textLength="25.77" lengthAdjust="spacingAndGlyphs" >10</text>
<line x1="338.00" y1="2024.50" x2="338.00" y2="2037.60" stroke="#444" stroke-width="1.2" />
<text x="325.43" y="2066.20" font-size="23" fill="#1a1a1a" textLength="24.39" lengthAdjust="spacingAndGlyphs" >15</text>
<line x1="411.40" y1="2024.50" x2="411.40" y2="2037.60" stroke="#444" stroke-width="1.2" />
<text x="396.41" y="2066.20" font-size="23" fill="#1a1a1a" textLength="29.68" lengthAdjust="spacingAndGlyphs" >20</text>
<line x1="484.80" y1="2024.50" x2="484.80" y2="2037.60" stroke="#444" stroke-width="1.2" />
<text x="470.52" y="2066.20" font-size="23" fill="#1a1a1a" textLength="28.35" lengthAdjust="spacingAndGlyphs" >25</text>
<line x1="558.20" y1="2024.50" x2="558.20" y2="2037.60" stroke="#444" stroke-width="1.2" />
<text x="543.38" y="2066.20" font-size="23" fill="#1a1a1a" textLength="29.66" lengthAdjust="spacingAndGlyphs" >30</text>
<line x1="631.60" y1="2024.50" x2="631.60" y2="2037.60" stroke="#444" stroke-width="1.2" />
<text x="617.48" y="2066.20" font-size="23" fill="#1a1a1a" textLength="28.34" lengthAdjust="spacingAndGlyphs" >35</text>
<line x1="705.00" y1="2024.50" x2="705.00" y2="2037.60" stroke="#444" stroke-width="1.2" />
<text x="690.44" y="2066.20" font-size="23" fill="#1a1a1a" textLength="29.55" lengthAdjust="spacingAndGlyphs" >40</text>
<line x1="778.40" y1="2024.50" x2="778.40" y2="2037.60" stroke="#444" stroke-width="1.2" />
<text x="764.52" y="2066.20" font-size="23" fill="#1a1a1a" textLength="28.25" lengthAdjust="spacingAndGlyphs" >45</text>
<line x1="851.80" y1="2024.50" x2="851.80" y2="2037.60" stroke="#444" stroke-width="1.2" />
<text x="837.09" y="2066.20" font-size="23" fill="#1a1a1a" textLength="29.39" lengthAdjust="spacingAndGlyphs" >50</text>
<line x1="925.20" y1="2024.50" x2="925.20" y2="2037.60" stroke="#444" stroke-width="1.2" />
<text x="911.19" y="2066.20" font-size="23" fill="#1a1a1a" textLength="28.07" lengthAdjust="spacingAndGlyphs" >55</text>
<line x1="154.50" y1="2024.50" x2="154.50" y2="2030.20" stroke="#444" stroke-width="1.2" />
<line x1="227.90" y1="2024.50" x2="227.90" y2="2030.20" stroke="#444" stroke-width="1.2" />
<line x1="301.30" y1="2024.50" x2="301.30" y2="2030.20" stroke="#444" stroke-width="1.2" />
<line x1="374.70" y1="2024.50" x2="374.70" y2="2030.20" stroke="#444" stroke-width="1.2" />
<line x1="448.10" y1="2024.50" x2="448.10" y2="2030.20" stroke="#444" stroke-width="1.2" />
<line x1="521.50" y1="2024.50" x2="521.50" y2="2030.20" stroke="#444" stroke-width="1.2" />
<line x1="594.90" y1="2024.50" x2="594.90" y2="2030.20" stroke="#444" stroke-width="1.2" />
<line x1="668.30" y1="2024.50" x2="668.30" y2="2030.20" stroke="#444" stroke-width="1.2" />
<line x1="741.70" y1="2024.50" x2="741.70" y2="2030.20" stroke="#444" stroke-width="1.2" />
<line x1="815.10" y1="2024.50" x2="815.10" y2="2030.20" stroke="#444" stroke-width="1.2" />
<line x1="888.50" y1="2024.50" x2="888.50" y2="2030.20" stroke="#444" stroke-width="1.2" />
<line x1="913.30" y1="2019.40" x2="925.30" y2="2019.40" stroke="#f00" stroke-width="1.3" />
<text x="938.32" y="2026.30" font-size="23" fill="#f00" textLength="61.74" lengthAdjust="spacingAndGlyphs" >1,900</text>
<line x1="913.30" y1="1969.84" x2="925.30" y2="1969.84" stroke="#f00" stroke-width="1.3" />
<text x="938.36" y="1976.74" font-size="23" fill="#f00" textLength="60.38" lengthAdjust="spacingAndGlyphs" >1,920</text>
<line x1="913.30" y1="1920.28" x2="925.30" y2="1920.28" stroke="#f00" stroke-width="1.3" />
<text x="938.34" y="1927.18" font-size="23" fill="#f00" textLength="61.01" lengthAdjust="spacingAndGlyphs" >1,940</text>
<line x1="913.30" y1="1870.72" x2="925.30" y2="1870.72" stroke="#f00" stroke-width="1.3" />
<text x="938.35" y="1877.62" font-size="23" fill="#f00" textLength="60.90" lengthAdjust="spacingAndGlyphs" >1,960</text>
<line x1="913.30" y1="1821.16" x2="925.30" y2="1821.16" stroke="#f00" stroke-width="1.3" />
<text x="938.35" y="1828.06" font-size="23" fill="#f00" textLength="60.90" lengthAdjust="spacingAndGlyphs" >1,980</text>
<line x1="913.30" y1="1771.60" x2="925.30" y2="1771.60" stroke="#f00" stroke-width="1.3" />
<text x="938.87" y="1778.50" font-size="23" fill="#f00" textLength="66.27" lengthAdjust="spacingAndGlyphs" >2,000</text>
<line x1="913.30" y1="1722.04" x2="925.30" y2="1722.04" stroke="#f00" stroke-width="1.3" />
<text x="938.90" y="1728.94" font-size="23" fill="#f00" textLength="64.92" lengthAdjust="spacingAndGlyphs" >2,020</text>
<line x1="913.30" y1="1672.48" x2="925.30" y2="1672.48" stroke="#f00" stroke-width="1.3" />
<text x="938.88" y="1679.38" font-size="23" fill="#f00" textLength="65.54" lengthAdjust="spacingAndGlyphs" >2,040</text>
<line x1="913.30" y1="1622.92" x2="925.30" y2="1622.92" stroke="#f00" stroke-width="1.3" />
<text x="938.88" y="1629.82" font-size="23" fill="#f00" textLength="65.44" lengthAdjust="spacingAndGlyphs" >2,060</text>
<line x1="913.30" y1="1573.36" x2="925.30" y2="1573.36" stroke="#f00" stroke-width="1.3" />
<text x="938.88" y="1580.26" font-size="23" fill="#f00" textLength="65.44" lengthAdjust="spacingAndGlyphs" >2,080</text>
<line x1="913.30" y1="1523.80" x2="925.30" y2="1523.80" stroke="#f00" stroke-width="1.3" />
<text x="938.98" y="1530.70" font-size="23" fill="#f00" textLength="60.56" lengthAdjust="spacingAndGlyphs" >2,100</text>
<line x1="913.30" y1="1474.24" x2="925.30" y2="1474.24" stroke="#f00" stroke-width="1.3" />
<text x="939.01" y="1481.14" font-size="23" fill="#f00" textLength="59.21" lengthAdjust="spacingAndGlyphs" >2,120</text>
<line x1="913.30" y1="1424.68" x2="925.30" y2="1424.68" stroke="#f00" stroke-width="1.3" />
<text x="939.00" y="1431.58" font-size="23" fill="#f00" textLength="59.84" lengthAdjust="spacingAndGlyphs" >2,140</text>
<line x1="913.30" y1="1375.12" x2="925.30" y2="1375.12" stroke="#f00" stroke-width="1.3" />
<text x="939.00" y="1382.02" font-size="23" fill="#f00" textLength="59.73" lengthAdjust="spacingAndGlyphs" >2,160</text>
<line x1="919.60" y1="1994.62" x2="925.30" y2="1994.62" stroke="#f00" stroke-width="1.1" />
<line x1="919.60" y1="1945.06" x2="925.30" y2="1945.06" stroke="#f00" stroke-width="1.1" />
<line x1="919.60" y1="1895.50" x2="925.30" y2="1895.50" stroke="#f00" stroke-width="1.1" />
<line x1="919.60" y1="1845.94" x2="925.30" y2="1845.94" stroke="#f00" stroke-width="1.1" />
<line x1="919.60" y1="1796.38" x2="925.30" y2="1796.38" stroke="#f00" stroke-width="1.1" />
<line x1="919.60" y1="1746.82" x2="925.30" y2="1746.82" stroke="#f00" stroke-width="1.1" />
<line x1="919.60" y1="1697.26" x2="925.30" y2="1697.26" stroke="#f00" stroke-width="1.1" />
<line x1="919.60" y1="1647.70" x2="925.30" y2="1647.70" stroke="#f00" stroke-width="1.1" />
<line x1="919.60" y1="1598.14" x2="925.30" y2="1598.14" stroke="#f00" stroke-width="1.1" />
<line x1="919.60" y1="1548.58" x2="925.30" y2="1548.58" stroke="#f00" stroke-width="1.1" />
<line x1="919.60" y1="1499.02" x2="925.30" y2="1499.02" stroke="#f00" stroke-width="1.1" />
<line x1="919.60" y1="1449.46" x2="925.30" y2="1449.46" stroke="#f00" stroke-width="1.1" />
<line x1="919.60" y1="1399.90" x2="925.30" y2="1399.90" stroke="#f00" stroke-width="1.1" />
<g transform="translate(26.6,0) rotate(-90)">
<text x="-1807.43" y="0.00" font-size="28" fill="#1a1a1a" textLength="216.69" lengthAdjust="spacingAndGlyphs" >Wavelength (nm)</text>
</g>
<g transform="translate(1027.2,0) rotate(90)">
<text x="1584.29" y="0.00" font-size="28.5" fill="#f00" textLength="204.76" lengthAdjust="spacingAndGlyphs" >Raman shift (cm</text>
<text x="1788.76" y="-11.50" font-size="18" fill="#f00" textLength="14.88" lengthAdjust="spacingAndGlyphs" >−1</text>
<text x="1805.23" y="0.00" font-size="28.5" fill="#f00" textLength="9.67" lengthAdjust="spacingAndGlyphs" >)</text>
</g>
<text x="514.55" y="2101.00" font-size="27.5" fill="#1a1a1a" font-style="italic" textLength="15.08" lengthAdjust="spacingAndGlyphs" >n</text>
<rect x="614.9" y="1501.3" width="13.4" height="13.6" fill="#000"/>
<rect x="614.9" y="1550.6" width="13.6" height="14" fill="#f00"/>
<text x="641.37" y="1517.60" font-size="27" fill="#1a1a1a" font-style="italic" textLength="13.72" lengthAdjust="spacingAndGlyphs" >λ</text>
<text x="654.41" y="1526.20" font-size="19.5" fill="#1a1a1a" textLength="36.70" lengthAdjust="spacingAndGlyphs" >max</text>
<text x="639.61" y="1565.20" font-size="26.6" fill="#1a1a1a" textLength="148.69" lengthAdjust="spacingAndGlyphs" >Raman shift</text>
<text x="790.19" y="1565.00" font-size="26.6" fill="#1a1a1a" font-style="italic" textLength="18.75" lengthAdjust="spacingAndGlyphs" >ν</text>
<path d="M176.52,1999.54 L177.99,1992.30 L179.46,1985.14 L180.92,1978.06 L182.39,1971.07 L183.86,1964.16 L185.33,1957.32 L186.80,1950.57 L188.26,1943.90 L189.73,1937.30 L191.20,1930.78 L192.67,1924.34 L194.14,1917.97 L195.60,1911.67 L197.07,1905.45 L198.54,1899.30 L200.01,1893.22 L201.48,1887.21 L202.94,1881.27 L204.41,1875.40 L205.88,1869.60 L207.35,1863.87 L208.82,1858.20 L210.28,1852.60 L211.75,1847.06 L213.22,1841.59 L214.69,1836.18 L216.16,1830.84 L217.62,1825.55 L219.09,1820.33 L220.56,1815.17 L222.03,1810.07 L223.50,1805.03 L224.96,1800.04 L226.43,1795.12 L227.90,1790.25 L229.37,1785.44 L230.84,1780.68 L232.30,1775.98 L233.77,1771.33 L235.24,1766.74 L236.71,1762.20 L238.18,1757.71 L239.64,1753.28 L241.11,1748.90 L242.58,1744.56 L244.05,1740.28 L245.52,1736.05 L246.98,1731.87 L248.45,1727.73 L249.92,1723.65 L251.39,1719.61 L252.86,1715.62 L254.32,1711.67 L255.79,1707.77 L257.26,1703.92 L258.73,1700.11 L260.20,1696.34 L261.66,1692.62 L263.13,1688.94 L264.60,1685.31 L266.07,1681.71 L267.54,1678.16 L269.00,1674.65 L270.47,1671.18 L271.94,1667.75 L273.41,1664.36 L274.88,1661.01 L276.34,1657.70 L277.81,1654.43 L279.28,1651.19 L280.75,1648.00 L282.22,1644.84 L283.68,1641.71 L285.15,1638.63 L286.62,1635.58 L288.09,1632.56 L289.56,1629.58 L291.02,1626.63 L292.49,1623.72 L293.96,1620.84 L295.43,1618.00 L296.90,1615.19 L298.36,1612.41 L299.83,1609.66 L301.30,1606.95 L302.77,1604.26 L304.24,1601.61 L305.70,1598.99 L307.17,1596.40 L308.64,1593.84 L310.11,1591.31 L311.58,1588.80 L313.04,1586.33 L314.51,1583.89 L315.98,1581.47 L317.45,1579.09 L318.92,1576.73 L320.38,1574.39 L321.85,1572.09 L323.32,1569.81 L324.79,1567.56 L326.26,1565.33 L327.72,1563.13 L329.19,1560.96 L330.66,1558.81 L332.13,1556.68 L333.60,1554.58 L335.06,1552.51 L336.53,1550.46 L338.00,1548.43 L339.47,1546.43 L340.94,1544.45 L342.40,1542.49 L343.87,1540.56 L345.34,1538.64 L346.81,1536.75 L348.28,1534.88 L349.74,1533.04 L351.21,1531.21 L352.68,1529.41 L354.15,1527.63 L355.62,1525.87 L357.08,1524.12 L358.55,1522.40 L360.02,1520.70 L361.49,1519.02 L362.96,1517.36 L364.42,1515.71 L365.89,1514.09 L367.36,1512.49 L368.83,1510.90 L370.30,1509.33 L371.76,1507.78 L373.23,1506.25 L374.70,1504.74 L376.17,1503.24 L377.64,1501.76 L379.10,1500.30 L380.57,1498.86 L382.04,1497.43 L383.51,1496.02 L384.98,1494.62 L386.44,1493.24 L387.91,1491.88 L389.38,1490.53 L390.85,1489.20 L392.32,1487.89 L393.78,1486.59 L395.25,1485.30 L396.72,1484.03 L398.19,1482.77 L399.66,1481.53 L401.12,1480.31 L402.59,1479.09 L404.06,1477.90 L405.53,1476.71 L407.00,1475.54 L408.46,1474.38 L409.93,1473.24 L411.40,1472.11 L412.87,1470.99 L414.34,1469.89 L415.80,1468.80 L417.27,1467.72 L418.74,1466.65 L420.21,1465.60 L421.68,1464.56 L423.14,1463.53 L424.61,1462.51 L426.08,1461.50 L427.55,1460.51 L429.02,1459.53 L430.48,1458.56 L431.95,1457.60 L433.42,1456.65 L434.89,1455.71 L436.36,1454.78 L437.82,1453.87 L439.29,1452.96 L440.76,1452.07 L442.23,1451.18 L443.70,1450.31 L445.16,1449.44 L446.63,1448.59 L448.10,1447.75 L449.57,1446.91 L451.04,1446.09 L452.50,1445.27 L453.97,1444.47 L455.44,1443.67 L456.91,1442.88 L458.38,1442.10 L459.84,1441.34 L461.31,1440.58 L462.78,1439.83 L464.25,1439.08 L465.72,1438.35 L467.18,1437.62 L468.65,1436.91 L470.12,1436.20 L471.59,1435.50 L473.06,1434.81 L474.52,1434.12 L475.99,1433.45 L477.46,1432.78 L478.93,1432.12 L480.40,1431.47 L481.86,1430.82 L483.33,1430.18 L484.80,1429.55 L486.27,1428.93 L487.74,1428.31 L489.20,1427.70 L490.67,1427.10 L492.14,1426.51 L493.61,1425.92 L495.08,1425.34 L496.54,1424.77 L498.01,1424.20 L499.48,1423.64 L500.95,1423.08 L502.42,1422.54 L503.88,1421.99 L505.35,1421.46 L506.82,1420.93 L508.29,1420.41 L509.76,1419.89 L511.22,1419.38 L512.69,1418.87 L514.16,1418.38 L515.63,1417.88 L517.10,1417.40 L518.56,1416.91 L520.03,1416.44 L521.50,1415.97 L522.97,1415.50 L524.44,1415.04 L525.90,1414.59 L527.37,1414.14 L528.84,1413.69 L530.31,1413.26 L531.78,1412.82 L533.24,1412.39 L534.71,1411.97 L536.18,1411.55 L537.65,1411.14 L539.12,1410.73 L540.58,1410.32 L542.05,1409.92 L543.52,1409.53 L544.99,1409.14 L546.46,1408.75 L547.92,1408.37 L549.39,1407.99 L550.86,1407.62 L552.33,1407.25 L553.80,1406.89 L555.26,1406.53 L556.73,1406.17 L558.20,1405.82 L559.67,1405.47 L561.14,1405.13 L562.60,1404.79 L564.07,1404.46 L565.54,1404.12 L567.01,1403.80 L568.48,1403.47 L569.94,1403.15 L571.41,1402.84 L572.88,1402.52 L574.35,1402.22 L575.82,1401.91 L577.28,1401.61 L578.75,1401.31 L580.22,1401.01 L581.69,1400.72 L583.16,1400.43 L584.62,1400.15 L586.09,1399.87 L587.56,1399.59 L589.03,1399.32 L590.50,1399.04 L591.96,1398.77 L593.43,1398.51 L594.90,1398.25 L596.37,1397.99 L597.84,1397.73 L599.30,1397.48 L600.77,1397.23 L602.24,1396.98 L603.71,1396.73 L605.18,1396.49 L606.64,1396.25 L608.11,1396.02 L609.58,1395.78 L611.05,1395.55 L612.52,1395.33 L613.98,1395.10 L615.45,1394.88 L616.92,1394.66 L618.39,1394.44 L619.86,1394.22 L621.32,1394.01 L622.79,1393.80 L624.26,1393.59 L625.73,1393.39 L627.20,1393.18 L628.66,1392.98 L630.13,1392.79 L631.60,1392.59 L633.07,1392.40 L634.54,1392.20 L636.00,1392.02 L637.47,1391.83 L638.94,1391.64 L640.41,1391.46 L641.88,1391.28 L643.34,1391.10 L644.81,1390.93 L646.28,1390.75 L647.75,1390.58 L649.22,1390.41 L650.68,1390.24 L652.15,1390.07 L653.62,1389.91 L655.09,1389.75 L656.56,1389.59 L658.02,1389.43 L659.49,1389.27 L660.96,1389.12 L662.43,1388.96 L663.90,1388.81 L665.36,1388.66 L666.83,1388.51 L668.30,1388.37 L669.77,1388.22 L671.24,1388.08 L672.70,1387.94 L674.17,1387.80 L675.64,1387.66 L677.11,1387.52 L678.58,1387.39 L680.04,1387.25 L681.51,1387.12 L682.98,1386.99 L684.45,1386.86 L685.92,1386.74 L687.38,1386.61 L688.85,1386.49 L690.32,1386.36 L691.79,1386.24 L693.26,1386.12 L694.72,1386.00 L696.19,1385.89 L697.66,1385.77 L699.13,1385.66 L700.60,1385.54 L702.06,1385.43 L703.53,1385.32 L705.00,1385.21 L706.47,1385.10 L707.94,1385.00 L709.40,1384.89 L710.87,1384.79 L712.34,1384.68 L713.81,1384.58 L715.28,1384.48 L716.74,1384.38 L718.21,1384.28 L719.68,1384.19 L721.15,1384.09 L722.62,1384.00 L724.08,1383.90 L725.55,1383.81 L727.02,1383.72 L728.49,1383.63 L729.96,1383.54 L731.42,1383.45 L732.89,1383.36 L734.36,1383.27 L735.83,1383.19 L737.30,1383.10 L738.76,1383.02 L740.23,1382.94 L741.70,1382.86 L743.17,1382.78 L744.64,1382.70 L746.10,1382.62 L747.57,1382.54 L749.04,1382.46 L750.51,1382.39 L751.98,1382.31 L753.44,1382.24 L754.91,1382.16 L756.38,1382.09 L757.85,1382.02 L759.32,1381.95 L760.78,1381.88 L762.25,1381.81 L763.72,1381.74 L765.19,1381.67 L766.66,1381.61 L768.12,1381.54 L769.59,1381.47 L771.06,1381.41 L772.53,1381.35 L774.00,1381.28 L775.46,1381.22 L776.93,1381.16 L778.40,1381.10 L779.87,1381.04 L781.34,1380.98 L782.80,1380.92 L784.27,1380.86 L785.74,1380.80 L787.21,1380.75 L788.68,1380.69 L790.14,1380.64 L791.61,1380.58 L793.08,1380.53 L794.55,1380.47 L796.02,1380.42 L797.48,1380.37 L798.95,1380.32 L800.42,1380.26 L801.89,1380.21 L803.36,1380.16 L804.82,1380.11 L806.29,1380.07 L807.76,1380.02 L809.23,1379.97 L810.70,1379.92 L812.16,1379.88 L813.63,1379.83 L815.10,1379.78 L816.57,1379.74 L818.04,1379.70 L819.50,1379.65 L820.97,1379.61 L822.44,1379.56 L823.91,1379.52 L825.38,1379.48 L826.84,1379.44 L828.31,1379.40 L829.78,1379.36 L831.25,1379.32 L832.72,1379.28 L834.18,1379.24 L835.65,1379.20 L837.12,1379.16 L838.59,1379.12 L840.06,1379.09 L841.52,1379.05 L842.99,1379.01 L844.46,1378.98 L845.93,1378.94 L847.40,1378.91 L848.86,1378.87 L850.33,1378.84 L851.80,1378.80 L853.27,1378.77 L854.74,1378.74 L856.20,1378.70 L857.67,1378.67 L859.14,1378.64 L860.61,1378.61 L862.08,1378.58 L863.54,1378.55 L865.01,1378.52 L866.48,1378.49 L867.95,1378.46 L869.42,1378.43 L870.88,1378.40 L872.35,1378.37 L873.82,1378.34 L875.29,1378.31 L876.76,1378.28 L878.22,1378.26 L879.69,1378.23 L881.16,1378.20 L882.63,1378.17 L884.10,1378.15 L885.56,1378.12 L887.03,1378.10 L888.50,1378.07 L889.97,1378.05 L891.44,1378.02 L892.90,1378.00 L894.37,1377.97 L895.84,1377.95 L897.31,1377.93 L898.78,1377.90 L900.24,1377.88 L901.71,1377.86 L903.18,1377.83 L904.65,1377.81 L906.12,1377.79 L907.58,1377.77 L909.05,1377.75 L910.52,1377.72 L911.99,1377.70 L913.46,1377.68 L914.92,1377.66 L916.39,1377.64 L917.86,1377.62 L919.33,1377.60 L920.80,1377.58 L922.26,1377.56 L923.73,1377.54 L925.20,1377.52" fill="none" stroke="#000" stroke-width="4.2" stroke-linejoin="round" stroke-linecap="round" />
<path d="M176.52,1383.40 L177.99,1395.05 L179.46,1406.48 L180.92,1417.71 L182.39,1428.73 L183.86,1439.55 L185.33,1450.17 L186.80,1460.59 L188.26,1470.83 L189.73,1480.87 L191.20,1490.74 L192.67,1500.42 L194.14,1509.92 L195.60,1519.25 L197.07,1528.41 L198.54,1537.41 L200.01,1546.23 L201.48,1554.90 L202.94,1563.41 L204.41,1571.76 L205.88,1579.96 L207.35,1588.00 L208.82,1595.91 L210.28,1603.66 L211.75,1611.28 L213.22,1618.75 L214.69,1626.09 L216.16,1633.29 L217.62,1640.36 L219.09,1647.30 L220.56,1654.12 L222.03,1660.81 L223.50,1667.38 L224.96,1673.82 L226.43,1680.15 L227.90,1686.37 L229.37,1692.47 L230.84,1698.45 L232.30,1704.33 L233.77,1710.10 L235.24,1715.77 L236.71,1721.33 L238.18,1726.79 L239.64,1732.14 L241.11,1737.41 L242.58,1742.57 L244.05,1747.64 L245.52,1752.62 L246.98,1757.50 L248.45,1762.30 L249.92,1767.01 L251.39,1771.63 L252.86,1776.17 L254.32,1780.62 L255.79,1785.00 L257.26,1789.29 L258.73,1793.50 L260.20,1797.64 L261.66,1801.70 L263.13,1805.69 L264.60,1809.60 L266.07,1813.45 L267.54,1817.22 L269.00,1820.92 L270.47,1824.56 L271.94,1828.12 L273.41,1831.63 L274.88,1835.07 L276.34,1838.44 L277.81,1841.76 L279.28,1845.01 L280.75,1848.20 L282.22,1851.34 L283.68,1854.42 L285.15,1857.44 L286.62,1860.40 L288.09,1863.32 L289.56,1866.18 L291.02,1868.98 L292.49,1871.74 L293.96,1874.44 L295.43,1877.10 L296.90,1879.70 L298.36,1882.26 L299.83,1884.77 L301.30,1887.24 L302.77,1889.66 L304.24,1892.03 L305.70,1894.37 L307.17,1896.66 L308.64,1898.90 L310.11,1901.11 L311.58,1903.28 L313.04,1905.40 L314.51,1907.49 L315.98,1909.54 L317.45,1911.55 L318.92,1913.53 L320.38,1915.47 L321.85,1917.37 L323.32,1919.24 L324.79,1921.07 L326.26,1922.88 L327.72,1924.64 L329.19,1926.38 L330.66,1928.08 L332.13,1929.75 L333.60,1931.40 L335.06,1933.01 L336.53,1934.59 L338.00,1936.14 L339.47,1937.67 L340.94,1939.17 L342.40,1940.63 L343.87,1942.08 L345.34,1943.49 L346.81,1944.88 L348.28,1946.25 L349.74,1947.59 L351.21,1948.90 L352.68,1950.19 L354.15,1951.46 L355.62,1952.71 L357.08,1953.93 L358.55,1955.13 L360.02,1956.30 L361.49,1957.46 L362.96,1958.59 L364.42,1959.71 L365.89,1960.80 L367.36,1961.87 L368.83,1962.93 L370.30,1963.96 L371.76,1964.98 L373.23,1965.97 L374.70,1966.95 L376.17,1967.91 L377.64,1968.86 L379.10,1969.78 L380.57,1970.69 L382.04,1971.58 L383.51,1972.46 L384.98,1973.32 L386.44,1974.16 L387.91,1974.99 L389.38,1975.80 L390.85,1976.60 L392.32,1977.39 L393.78,1978.16 L395.25,1978.91 L396.72,1979.65 L398.19,1980.38 L399.66,1981.09 L401.12,1981.80 L402.59,1982.49 L404.06,1983.16 L405.53,1983.82 L407.00,1984.48 L408.46,1985.12 L409.93,1985.74 L411.40,1986.36 L412.87,1986.97 L414.34,1987.56 L415.80,1988.14 L417.27,1988.72 L418.74,1989.28 L420.21,1989.83 L421.68,1990.37 L423.14,1990.90 L424.61,1991.42 L426.08,1991.94 L427.55,1992.44 L429.02,1992.93 L430.48,1993.42 L431.95,1993.89 L433.42,1994.36 L434.89,1994.82 L436.36,1995.27 L437.82,1995.71 L439.29,1996.15 L440.76,1996.57 L442.23,1996.99 L443.70,1997.40 L445.16,1997.80 L446.63,1998.20 L448.10,1998.59 L449.57,1998.97 L451.04,1999.34 L452.50,1999.71 L453.97,2000.07 L455.44,2000.42 L456.91,2000.77 L458.38,2001.11 L459.84,2001.45 L461.31,2001.78 L462.78,2002.10 L464.25,2002.42 L465.72,2002.73 L467.18,2003.03 L468.65,2003.33 L470.12,2003.63 L471.59,2003.92 L473.06,2004.20 L474.52,2004.48 L475.99,2004.75 L477.46,2005.02 L478.93,2005.28 L480.40,2005.54 L481.86,2005.79 L483.33,2006.04 L484.80,2006.29 L486.27,2006.53 L487.74,2006.76 L489.20,2007.00 L490.67,2007.22 L492.14,2007.45 L493.61,2007.66 L495.08,2007.88 L496.54,2008.09 L498.01,2008.30 L499.48,2008.50 L500.95,2008.70 L502.42,2008.90 L503.88,2009.09 L505.35,2009.28 L506.82,2009.46 L508.29,2009.65 L509.76,2009.82 L511.22,2010.00 L512.69,2010.17 L514.16,2010.34 L515.63,2010.51 L517.10,2010.67 L518.56,2010.83 L520.03,2010.99 L521.50,2011.14 L522.97,2011.29 L524.44,2011.44 L525.90,2011.59 L527.37,2011.73 L528.84,2011.87 L530.31,2012.01 L531.78,2012.14 L533.24,2012.28 L534.71,2012.41 L536.18,2012.53 L537.65,2012.66 L539.12,2012.78 L540.58,2012.90 L542.05,2013.02 L543.52,2013.14 L544.99,2013.26 L546.46,2013.37 L547.92,2013.48 L549.39,2013.59 L550.86,2013.69 L552.33,2013.80 L553.80,2013.90 L555.26,2014.00 L556.73,2014.10 L558.20,2014.20 L559.67,2014.29 L561.14,2014.39 L562.60,2014.48 L564.07,2014.57 L565.54,2014.66 L567.01,2014.74 L568.48,2014.83 L569.94,2014.91 L571.41,2014.99 L572.88,2015.07 L574.35,2015.15 L575.82,2015.23 L577.28,2015.31 L578.75,2015.38 L580.22,2015.46 L581.69,2015.53 L583.16,2015.60 L584.62,2015.67 L586.09,2015.74 L587.56,2015.80 L589.03,2015.87 L590.50,2015.94 L591.96,2016.00 L593.43,2016.06 L594.90,2016.12 L596.37,2016.18 L597.84,2016.24 L599.30,2016.30 L600.77,2016.36 L602.24,2016.41 L603.71,2016.47 L605.18,2016.52 L606.64,2016.57 L608.11,2016.62 L609.58,2016.68 L611.05,2016.73 L612.52,2016.77 L613.98,2016.82 L615.45,2016.87 L616.92,2016.92 L618.39,2016.96 L619.86,2017.01 L621.32,2017.05 L622.79,2017.09 L624.26,2017.14 L625.73,2017.18 L627.20,2017.22 L628.66,2017.26 L630.13,2017.30 L631.60,2017.34 L633.07,2017.37 L634.54,2017.41 L636.00,2017.45 L637.47,2017.48 L638.94,2017.52 L640.41,2017.55 L641.88,2017.59 L643.34,2017.62 L644.81,2017.65 L646.28,2017.68 L647.75,2017.72 L649.22,2017.75 L650.68,2017.78 L652.15,2017.81 L653.62,2017.84 L655.09,2017.86 L656.56,2017.89 L658.02,2017.92 L659.49,2017.95 L660.96,2017.97 L662.43,2018.00 L663.90,2018.03 L665.36,2018.05 L666.83,2018.07 L668.30,2018.10 L669.77,2018.12 L671.24,2018.15 L672.70,2018.17 L674.17,2018.19 L675.64,2018.21 L677.11,2018.24 L678.58,2018.26 L680.04,2018.28 L681.51,2018.30 L682.98,2018.32 L684.45,2018.34 L685.92,2018.36 L687.38,2018.38 L688.85,2018.40 L690.32,2018.41 L691.79,2018.43 L693.26,2018.45 L694.72,2018.47 L696.19,2018.48 L697.66,2018.50 L699.13,2018.52 L700.60,2018.53 L702.06,2018.55 L703.53,2018.57 L705.00,2018.58 L706.47,2018.60 L707.94,2018.61 L709.40,2018.62 L710.87,2018.64 L712.34,2018.65 L713.81,2018.67 L715.28,2018.68 L716.74,2018.69 L718.21,2018.71 L719.68,2018.72 L721.15,2018.73 L722.62,2018.74 L724.08,2018.76 L725.55,2018.77 L727.02,2018.78 L728.49,2018.79 L729.96,2018.80 L731.42,2018.81 L732.89,2018.82 L734.36,2018.83 L735.83,2018.84 L737.30,2018.85 L738.76,2018.86 L740.23,2018.87 L741.70,2018.88 L743.17,2018.89 L744.64,2018.90 L746.10,2018.91 L747.57,2018.92 L749.04,2018.93 L750.51,2018.94 L751.98,2018.95 L753.44,2018.95 L754.91,2018.96 L756.38,2018.97 L757.85,2018.98 L759.32,2018.99 L760.78,2018.99 L762.25,2019.00 L763.72,2019.01 L765.19,2019.02 L766.66,2019.02 L768.12,2019.03 L769.59,2019.04 L771.06,2019.04 L772.53,2019.05 L774.00,2019.06 L775.46,2019.06 L776.93,2019.07 L778.40,2019.07 L779.87,2019.08 L781.34,2019.09 L782.80,2019.09 L784.27,2019.10 L785.74,2019.10 L787.21,2019.11 L788.68,2019.11 L790.14,2019.12 L791.61,2019.12 L793.08,2019.13 L794.55,2019.13 L796.02,2019.14 L797.48,2019.14 L798.95,2019.15 L800.42,2019.15 L801.89,2019.16 L803.36,2019.16 L804.82,2019.17 L806.29,2019.17 L807.76,2019.18 L809.23,2019.18 L810.70,2019.18 L812.16,2019.19 L813.63,2019.19 L815.10,2019.20 L816.57,2019.20 L818.04,2019.20 L819.50,2019.21 L820.97,2019.21 L822.44,2019.21 L823.91,2019.22 L825.38,2019.22 L826.84,2019.22 L828.31,2019.23 L829.78,2019.23 L831.25,2019.23 L832.72,2019.24 L834.18,2019.24 L835.65,2019.24 L837.12,2019.24 L838.59,2019.25 L840.06,2019.25 L841.52,2019.25 L842.99,2019.26 L844.46,2019.26 L845.93,2019.26 L847.40,2019.26 L848.86,2019.27 L850.33,2019.27 L851.80,2019.27 L853.27,2019.27 L854.74,2019.28 L856.20,2019.28 L857.67,2019.28 L859.14,2019.28 L860.61,2019.28 L862.08,2019.29 L863.54,2019.29 L865.01,2019.29 L866.48,2019.29 L867.95,2019.29 L869.42,2019.30 L870.88,2019.30 L872.35,2019.30 L873.82,2019.30 L875.29,2019.30 L876.76,2019.31 L878.22,2019.31 L879.69,2019.31 L881.16,2019.31 L882.63,2019.31 L884.10,2019.31 L885.56,2019.32 L887.03,2019.32 L888.50,2019.32 L889.97,2019.32 L891.44,2019.32 L892.90,2019.32 L894.37,2019.32 L895.84,2019.33 L897.31,2019.33 L898.78,2019.33 L900.24,2019.33 L901.71,2019.33 L903.18,2019.33 L904.65,2019.33 L906.12,2019.33 L907.58,2019.34 L909.05,2019.34 L910.52,2019.34 L911.99,2019.34 L913.46,2019.34 L914.92,2019.34 L916.39,2019.34 L917.86,2019.34 L919.33,2019.34 L920.80,2019.35 L922.26,2019.35 L923.73,2019.35 L925.20,2019.35" fill="none" stroke="#f00" stroke-width="4.2" stroke-linejoin="round" stroke-linecap="round" />
<rect x="199.08" y="1862.80" width="13.60" height="13.60" fill="#000"/>
<rect x="316.52" y="1563.01" width="13.60" height="13.60" fill="#000"/>
<rect x="463.32" y="1429.40" width="13.60" height="13.60" fill="#000"/>
<rect x="610.12" y="1387.86" width="13.60" height="13.60" fill="#000"/>
<rect x="199.08" y="1573.00" width="13.60" height="13.60" fill="#f00"/>
<rect x="316.52" y="1912.60" width="13.60" height="13.60" fill="#f00"/>
<rect x="463.32" y="1994.20" width="13.60" height="13.60" fill="#f00"/>
<rect x="610.12" y="2011.20" width="13.60" height="13.60" fill="#f00"/>
</svg></body></html>
